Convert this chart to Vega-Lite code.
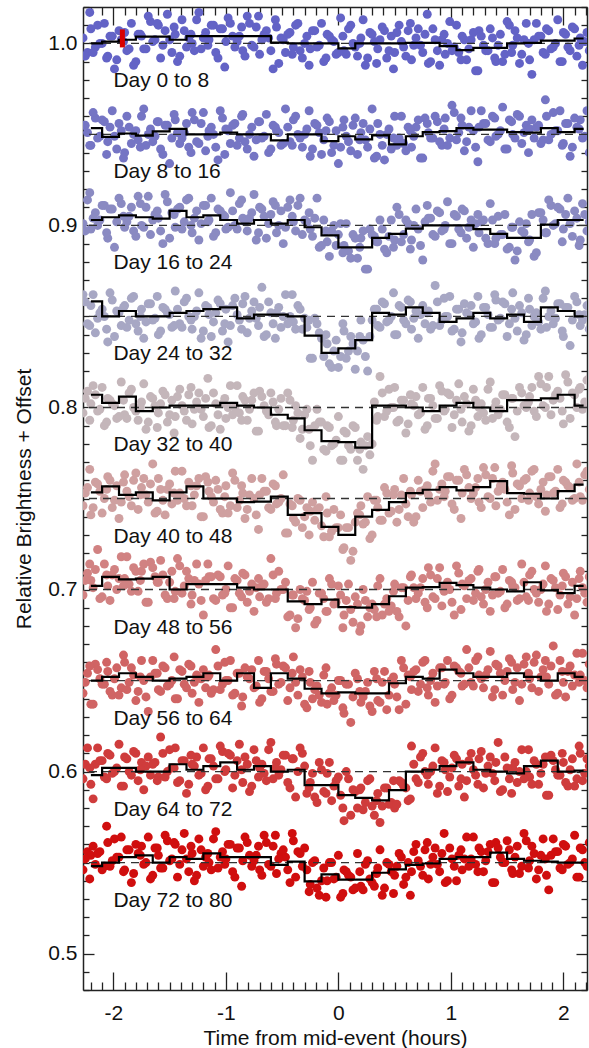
{
"$schema": "https://vega.github.io/schema/vega-lite/v6.json",
"width": 504, "height": 983,
"autosize": {"type": "none"},
"padding": {"left": 83, "top": 7, "right": 2, "bottom": 58},
"background": "white",
"config": {"view": {"stroke": null}, "font": "Liberation Sans",
 "axis": {"labelFont": "Liberation Sans", "titleFont": "Liberation Sans", "labelFontSize": 21, "titleFontSize": 21, "titleFontWeight": "normal", "labelColor": "#111", "titleColor": "#111", "domainColor": "#222", "tickColor": "#222", "domainWidth": 1.5, "tickWidth": 1.3, "grid": false, "labelOverlap": false, "labelFlush": false}},
"datasets": {
"p0": [{"t":-2.27,"y":1.003},{"t":-2.23,"y":0.995},{"t":-2.2,"y":1.008},{"t":-2.16,"y":0.998},{"t":-2.12,"y":1},{"t":-2.08,"y":1.011},{"t":-2.05,"y":0.993},{"t":-2.01,"y":1.004},{"t":-1.97,"y":0.991},{"t":-1.93,"y":1.002},{"t":-1.9,"y":1.006},{"t":-1.86,"y":0.997},{"t":-1.82,"y":0.988},{"t":-1.78,"y":1.005},{"t":-1.75,"y":1.004},{"t":-1.71,"y":0.997},{"t":-1.67,"y":1.012},{"t":-1.63,"y":1.002},{"t":-1.6,"y":1.01},{"t":-1.56,"y":0.999},{"t":-1.52,"y":1.016},{"t":-1.48,"y":0.995},{"t":-1.45,"y":1.005},{"t":-1.41,"y":0.993},{"t":-1.37,"y":1.007},{"t":-1.33,"y":1.003},{"t":-1.3,"y":1},{"t":-1.26,"y":1.013},{"t":-1.22,"y":0.997},{"t":-1.18,"y":1.006},{"t":-1.15,"y":1.002},{"t":-1.11,"y":1.01},{"t":-1.07,"y":0.992},{"t":-1.03,"y":1.008},{"t":-1,"y":1.001},{"t":-0.96,"y":1.011},{"t":-0.92,"y":0.998},{"t":-0.88,"y":1.004},{"t":-0.85,"y":0.996},{"t":-0.81,"y":1.015},{"t":-0.77,"y":0.999},{"t":-0.73,"y":1.009},{"t":-0.7,"y":0.994},{"t":-0.66,"y":1.005},{"t":-0.62,"y":1.003},{"t":-0.58,"y":0.986},{"t":-0.55,"y":1.009},{"t":-0.51,"y":1.003},{"t":-0.47,"y":0.995},{"t":-0.43,"y":1.006},{"t":-0.4,"y":0.998},{"t":-0.36,"y":1.011},{"t":-0.32,"y":0.992},{"t":-0.28,"y":1.004},{"t":-0.25,"y":0.997},{"t":-0.21,"y":1.007},{"t":-0.17,"y":0.999},{"t":-0.13,"y":0.99},{"t":-0.1,"y":1.005},{"t":-0.06,"y":1.002},{"t":-0.02,"y":0.994},{"t":0.02,"y":1.014},{"t":0.05,"y":0.996},{"t":0.09,"y":1.008},{"t":0.13,"y":1},{"t":0.17,"y":0.993},{"t":0.2,"y":1.003},{"t":0.24,"y":0.988},{"t":0.28,"y":1.006},{"t":0.32,"y":1.001},{"t":0.35,"y":0.997},{"t":0.39,"y":1.009},{"t":0.43,"y":0.992},{"t":0.47,"y":1.004},{"t":0.5,"y":0.995},{"t":0.54,"y":1.01},{"t":0.58,"y":0.998},{"t":0.62,"y":1.007},{"t":0.65,"y":0.991},{"t":0.69,"y":1.003},{"t":0.73,"y":0.999},{"t":0.77,"y":1.005},{"t":0.8,"y":0.989},{"t":0.84,"y":1.008},{"t":0.88,"y":0.996},{"t":0.92,"y":1.002},{"t":0.95,"y":0.994},{"t":0.99,"y":1.012},{"t":1.03,"y":0.998},{"t":1.07,"y":0.995},{"t":1.1,"y":1.004},{"t":1.14,"y":0.991},{"t":1.18,"y":1.002},{"t":1.22,"y":0.985},{"t":1.25,"y":1.007},{"t":1.29,"y":0.999},{"t":1.33,"y":0.996},{"t":1.37,"y":1.003},{"t":1.4,"y":0.99},{"t":1.44,"y":1.005},{"t":1.48,"y":0.994},{"t":1.52,"y":1.01},{"t":1.55,"y":0.999},{"t":1.59,"y":1.003},{"t":1.63,"y":0.994},{"t":1.67,"y":1.011},{"t":1.7,"y":0.991},{"t":1.74,"y":1.002},{"t":1.78,"y":1.004},{"t":1.82,"y":0.995},{"t":1.85,"y":1.008},{"t":1.89,"y":0.997},{"t":1.93,"y":1},{"t":1.97,"y":0.99},{"t":2,"y":1.006},{"t":2.04,"y":0.998},{"t":2.08,"y":1.009},{"t":2.12,"y":0.993},{"t":2.15,"y":1.003},{"t":2.19,"y":1.001},{"t":2.23,"y":0.996},
{"t":-2.25,"y":0.993},{"t":-2.21,"y":1.017},{"t":-2.18,"y":0.995},{"t":-2.14,"y":1.01},{"t":-2.1,"y":1},{"t":-2.06,"y":0.992},{"t":-2.03,"y":1.004},{"t":-1.99,"y":0.986},{"t":-1.95,"y":1.007},{"t":-1.91,"y":1.001},{"t":-1.88,"y":0.996},{"t":-1.84,"y":1.011},{"t":-1.8,"y":0.99},{"t":-1.76,"y":1.005},{"t":-1.73,"y":0.997},{"t":-1.69,"y":1.015},{"t":-1.65,"y":1.001},{"t":-1.61,"y":1.011},{"t":-1.58,"y":0.992},{"t":-1.54,"y":1.007},{"t":-1.5,"y":1.002},{"t":-1.46,"y":1.009},{"t":-1.43,"y":0.99},{"t":-1.39,"y":1.013},{"t":-1.35,"y":0.998},{"t":-1.31,"y":1.005},{"t":-1.28,"y":0.996},{"t":-1.24,"y":1.017},{"t":-1.2,"y":1.003},{"t":-1.16,"y":0.999},{"t":-1.13,"y":1.01},{"t":-1.09,"y":0.995},{"t":-1.05,"y":1.008},{"t":-1.01,"y":0.987},{"t":-0.98,"y":1.014},{"t":-0.94,"y":1.004},{"t":-0.9,"y":1.001},{"t":-0.86,"y":1.009},{"t":-0.83,"y":0.993},{"t":-0.79,"y":1.011},{"t":-0.75,"y":0.998},{"t":-0.71,"y":1.015},{"t":-0.68,"y":1.002},{"t":-0.64,"y":1.007},{"t":-0.6,"y":0.996},{"t":-0.56,"y":1.013},{"t":-0.53,"y":0.989},{"t":-0.49,"y":1.002},{"t":-0.45,"y":1.005},{"t":-0.41,"y":0.994},{"t":-0.38,"y":1.01},{"t":-0.34,"y":0.996},{"t":-0.3,"y":1},{"t":-0.26,"y":0.988},{"t":-0.23,"y":1.007},{"t":-0.19,"y":0.998},{"t":-0.15,"y":1.011},{"t":-0.11,"y":0.992},{"t":-0.08,"y":1.004},{"t":-0.04,"y":1.001},{"t":0,"y":0.995},{"t":0.04,"y":1.004},{"t":0.07,"y":0.994},{"t":0.11,"y":1.01},{"t":0.15,"y":0.998},{"t":0.19,"y":1},{"t":0.22,"y":1.013},{"t":0.26,"y":0.992},{"t":0.3,"y":1.005},{"t":0.34,"y":0.989},{"t":0.37,"y":1.002},{"t":0.41,"y":1.007},{"t":0.45,"y":0.996},{"t":0.49,"y":0.986},{"t":0.52,"y":1.006},{"t":0.56,"y":1.001},{"t":0.6,"y":0.993},{"t":0.64,"y":1.011},{"t":0.67,"y":0.999},{"t":0.71,"y":1.008},{"t":0.75,"y":0.995},{"t":0.79,"y":1.016},{"t":0.82,"y":0.99},{"t":0.86,"y":1.002},{"t":0.9,"y":0.988},{"t":0.94,"y":1.005},{"t":0.97,"y":1},{"t":1.01,"y":0.996},{"t":1.05,"y":1.01},{"t":1.09,"y":0.991},{"t":1.12,"y":1.002},{"t":1.16,"y":0.997},{"t":1.2,"y":1.006},{"t":1.24,"y":0.985},{"t":1.27,"y":1.004},{"t":1.31,"y":0.996},{"t":1.35,"y":1.008},{"t":1.39,"y":0.992},{"t":1.42,"y":0.999},{"t":1.46,"y":0.99},{"t":1.5,"y":1.012},{"t":1.54,"y":0.995},{"t":1.57,"y":1.007},{"t":1.61,"y":0.989},{"t":1.65,"y":1.002},{"t":1.69,"y":1},{"t":1.72,"y":0.983},{"t":1.76,"y":1.011},{"t":1.8,"y":1.004},{"t":1.84,"y":0.994},{"t":1.87,"y":1.007},{"t":1.91,"y":0.998},{"t":1.95,"y":1.013},{"t":1.99,"y":0.99},{"t":2.02,"y":1.005},{"t":2.06,"y":0.996},{"t":2.1,"y":1.008},{"t":2.14,"y":0.999},{"t":2.17,"y":0.988},{"t":2.21,"y":1.006}],
"p1": [{"t":-2.27,"y":0.955},{"t":-2.23,"y":0.951},{"t":-2.2,"y":0.944},{"t":-2.16,"y":0.959},{"t":-2.12,"y":0.949},{"t":-2.08,"y":0.957},{"t":-2.05,"y":0.946},{"t":-2.01,"y":0.963},{"t":-1.97,"y":0.942},{"t":-1.93,"y":0.952},{"t":-1.9,"y":0.94},{"t":-1.86,"y":0.954},{"t":-1.82,"y":0.95},{"t":-1.78,"y":0.947},{"t":-1.75,"y":0.96},{"t":-1.71,"y":0.944},{"t":-1.67,"y":0.953},{"t":-1.63,"y":0.949},{"t":-1.6,"y":0.957},{"t":-1.56,"y":0.939},{"t":-1.52,"y":0.955},{"t":-1.48,"y":0.948},{"t":-1.45,"y":0.958},{"t":-1.41,"y":0.945},{"t":-1.37,"y":0.951},{"t":-1.33,"y":0.943},{"t":-1.3,"y":0.962},{"t":-1.26,"y":0.946},{"t":-1.22,"y":0.956},{"t":-1.18,"y":0.941},{"t":-1.15,"y":0.952},{"t":-1.11,"y":0.95},{"t":-1.07,"y":0.936},{"t":-1.03,"y":0.959},{"t":-1,"y":0.953},{"t":-0.96,"y":0.945},{"t":-0.92,"y":0.956},{"t":-0.88,"y":0.948},{"t":-0.85,"y":0.961},{"t":-0.81,"y":0.942},{"t":-0.77,"y":0.954},{"t":-0.73,"y":0.947},{"t":-0.7,"y":0.957},{"t":-0.66,"y":0.949},{"t":-0.62,"y":0.94},{"t":-0.58,"y":0.955},{"t":-0.55,"y":0.952},{"t":-0.51,"y":0.944},{"t":-0.47,"y":0.964},{"t":-0.43,"y":0.946},{"t":-0.4,"y":0.958},{"t":-0.36,"y":0.95},{"t":-0.32,"y":0.943},{"t":-0.28,"y":0.953},{"t":-0.25,"y":0.938},{"t":-0.21,"y":0.956},{"t":-0.17,"y":0.951},{"t":-0.13,"y":0.947},{"t":-0.1,"y":0.959},{"t":-0.06,"y":0.94},{"t":-0.02,"y":0.952},{"t":0.02,"y":0.943},{"t":0.05,"y":0.958},{"t":0.09,"y":0.946},{"t":0.13,"y":0.955},{"t":0.17,"y":0.939},{"t":0.2,"y":0.951},{"t":0.24,"y":0.947},{"t":0.28,"y":0.953},{"t":0.32,"y":0.937},{"t":0.35,"y":0.956},{"t":0.39,"y":0.944},{"t":0.43,"y":0.95},{"t":0.47,"y":0.942},{"t":0.5,"y":0.96},{"t":0.54,"y":0.948},{"t":0.58,"y":0.945},{"t":0.62,"y":0.954},{"t":0.65,"y":0.943},{"t":0.69,"y":0.954},{"t":0.73,"y":0.937},{"t":0.77,"y":0.959},{"t":0.8,"y":0.951},{"t":0.84,"y":0.948},{"t":0.88,"y":0.957},{"t":0.92,"y":0.944},{"t":0.95,"y":0.959},{"t":0.99,"y":0.948},{"t":1.03,"y":0.962},{"t":1.07,"y":0.951},{"t":1.1,"y":0.955},{"t":1.14,"y":0.946},{"t":1.18,"y":0.963},{"t":1.22,"y":0.943},{"t":1.25,"y":0.954},{"t":1.29,"y":0.956},{"t":1.33,"y":0.947},{"t":1.37,"y":0.96},{"t":1.4,"y":0.949},{"t":1.44,"y":0.952},{"t":1.48,"y":0.942},{"t":1.52,"y":0.958},{"t":1.55,"y":0.95},{"t":1.59,"y":0.961},{"t":1.63,"y":0.945},{"t":1.67,"y":0.955},{"t":1.7,"y":0.953},{"t":1.74,"y":0.948},{"t":1.78,"y":0.955},{"t":1.82,"y":0.947},{"t":1.85,"y":0.96},{"t":1.89,"y":0.95},{"t":1.93,"y":0.952},{"t":1.97,"y":0.963},{"t":2,"y":0.945},{"t":2.04,"y":0.956},{"t":2.08,"y":0.943},{"t":2.12,"y":0.954},{"t":2.15,"y":0.958},{"t":2.19,"y":0.949},{"t":2.23,"y":0.94},
{"t":-2.25,"y":0.955},{"t":-2.21,"y":0.944},{"t":-2.18,"y":0.962},{"t":-2.14,"y":0.948},{"t":-2.1,"y":0.958},{"t":-2.06,"y":0.939},{"t":-2.03,"y":0.954},{"t":-1.99,"y":0.949},{"t":-1.95,"y":0.956},{"t":-1.91,"y":0.937},{"t":-1.88,"y":0.96},{"t":-1.84,"y":0.945},{"t":-1.8,"y":0.952},{"t":-1.76,"y":0.943},{"t":-1.73,"y":0.964},{"t":-1.69,"y":0.95},{"t":-1.65,"y":0.946},{"t":-1.61,"y":0.957},{"t":-1.58,"y":0.942},{"t":-1.54,"y":0.955},{"t":-1.5,"y":0.934},{"t":-1.46,"y":0.961},{"t":-1.43,"y":0.951},{"t":-1.39,"y":0.948},{"t":-1.35,"y":0.956},{"t":-1.31,"y":0.94},{"t":-1.28,"y":0.958},{"t":-1.24,"y":0.945},{"t":-1.2,"y":0.962},{"t":-1.16,"y":0.949},{"t":-1.13,"y":0.954},{"t":-1.09,"y":0.943},{"t":-1.05,"y":0.963},{"t":-1.01,"y":0.939},{"t":-0.98,"y":0.952},{"t":-0.94,"y":0.955},{"t":-0.9,"y":0.944},{"t":-0.86,"y":0.96},{"t":-0.83,"y":0.946},{"t":-0.79,"y":0.95},{"t":-0.75,"y":0.938},{"t":-0.71,"y":0.957},{"t":-0.68,"y":0.948},{"t":-0.64,"y":0.961},{"t":-0.6,"y":0.942},{"t":-0.56,"y":0.954},{"t":-0.53,"y":0.951},{"t":-0.49,"y":0.945},{"t":-0.45,"y":0.954},{"t":-0.41,"y":0.944},{"t":-0.38,"y":0.96},{"t":-0.34,"y":0.948},{"t":-0.3,"y":0.95},{"t":-0.26,"y":0.963},{"t":-0.23,"y":0.942},{"t":-0.19,"y":0.955},{"t":-0.15,"y":0.939},{"t":-0.11,"y":0.952},{"t":-0.08,"y":0.957},{"t":-0.04,"y":0.944},{"t":0,"y":0.934},{"t":0.04,"y":0.954},{"t":0.07,"y":0.949},{"t":0.11,"y":0.941},{"t":0.15,"y":0.959},{"t":0.19,"y":0.947},{"t":0.22,"y":0.956},{"t":0.26,"y":0.943},{"t":0.3,"y":0.964},{"t":0.34,"y":0.938},{"t":0.37,"y":0.95},{"t":0.41,"y":0.936},{"t":0.45,"y":0.953},{"t":0.49,"y":0.948},{"t":0.52,"y":0.944},{"t":0.56,"y":0.96},{"t":0.6,"y":0.941},{"t":0.64,"y":0.952},{"t":0.67,"y":0.949},{"t":0.71,"y":0.958},{"t":0.75,"y":0.937},{"t":0.79,"y":0.956},{"t":0.82,"y":0.948},{"t":0.86,"y":0.96},{"t":0.9,"y":0.946},{"t":0.94,"y":0.953},{"t":0.97,"y":0.944},{"t":1.01,"y":0.966},{"t":1.05,"y":0.947},{"t":1.09,"y":0.959},{"t":1.12,"y":0.941},{"t":1.16,"y":0.954},{"t":1.2,"y":0.952},{"t":1.24,"y":0.935},{"t":1.27,"y":0.963},{"t":1.31,"y":0.956},{"t":1.35,"y":0.946},{"t":1.39,"y":0.959},{"t":1.42,"y":0.95},{"t":1.46,"y":0.965},{"t":1.5,"y":0.942},{"t":1.54,"y":0.957},{"t":1.57,"y":0.948},{"t":1.61,"y":0.96},{"t":1.65,"y":0.951},{"t":1.69,"y":0.94},{"t":1.72,"y":0.958},{"t":1.76,"y":0.954},{"t":1.8,"y":0.945},{"t":1.84,"y":0.969},{"t":1.87,"y":0.947},{"t":1.91,"y":0.962},{"t":1.95,"y":0.952},{"t":1.99,"y":0.944},{"t":2.02,"y":0.956},{"t":2.06,"y":0.938},{"t":2.1,"y":0.959},{"t":2.14,"y":0.953},{"t":2.17,"y":0.948},{"t":2.21,"y":0.963}],
"p2": [{"t":-2.27,"y":0.901},{"t":-2.23,"y":0.914},{"t":-2.2,"y":0.898},{"t":-2.16,"y":0.907},{"t":-2.12,"y":0.903},{"t":-2.08,"y":0.911},{"t":-2.05,"y":0.893},{"t":-2.01,"y":0.909},{"t":-1.97,"y":0.902},{"t":-1.93,"y":0.912},{"t":-1.9,"y":0.899},{"t":-1.86,"y":0.905},{"t":-1.82,"y":0.897},{"t":-1.78,"y":0.916},{"t":-1.75,"y":0.9},{"t":-1.71,"y":0.91},{"t":-1.67,"y":0.895},{"t":-1.63,"y":0.906},{"t":-1.6,"y":0.904},{"t":-1.56,"y":0.89},{"t":-1.52,"y":0.913},{"t":-1.48,"y":0.907},{"t":-1.45,"y":0.899},{"t":-1.41,"y":0.91},{"t":-1.37,"y":0.902},{"t":-1.33,"y":0.915},{"t":-1.3,"y":0.896},{"t":-1.26,"y":0.908},{"t":-1.22,"y":0.901},{"t":-1.18,"y":0.911},{"t":-1.15,"y":0.903},{"t":-1.11,"y":0.894},{"t":-1.07,"y":0.909},{"t":-1.03,"y":0.906},{"t":-1,"y":0.898},{"t":-0.96,"y":0.918},{"t":-0.92,"y":0.9},{"t":-0.88,"y":0.912},{"t":-0.85,"y":0.904},{"t":-0.81,"y":0.897},{"t":-0.77,"y":0.907},{"t":-0.73,"y":0.892},{"t":-0.7,"y":0.91},{"t":-0.66,"y":0.905},{"t":-0.62,"y":0.901},{"t":-0.58,"y":0.913},{"t":-0.55,"y":0.896},{"t":-0.51,"y":0.908},{"t":-0.47,"y":0.899},{"t":-0.43,"y":0.914},{"t":-0.4,"y":0.902},{"t":-0.36,"y":0.911},{"t":-0.32,"y":0.895},{"t":-0.28,"y":0.902},{"t":-0.25,"y":0.898},{"t":-0.21,"y":0.904},{"t":-0.17,"y":0.888},{"t":-0.13,"y":0.903},{"t":-0.1,"y":0.891},{"t":-0.06,"y":0.897},{"t":-0.02,"y":0.889},{"t":0.02,"y":0.901},{"t":0.05,"y":0.889},{"t":0.09,"y":0.886},{"t":0.13,"y":0.895},{"t":0.17,"y":0.882},{"t":0.2,"y":0.893},{"t":0.24,"y":0.876},{"t":0.28,"y":0.898},{"t":0.32,"y":0.894},{"t":0.35,"y":0.891},{"t":0.39,"y":0.898},{"t":0.43,"y":0.885},{"t":0.47,"y":0.903},{"t":0.5,"y":0.892},{"t":0.54,"y":0.906},{"t":0.58,"y":0.895},{"t":0.62,"y":0.901},{"t":0.65,"y":0.892},{"t":0.69,"y":0.909},{"t":0.73,"y":0.889},{"t":0.77,"y":0.902},{"t":0.8,"y":0.904},{"t":0.84,"y":0.895},{"t":0.88,"y":0.908},{"t":0.92,"y":0.897},{"t":0.95,"y":0.9},{"t":0.99,"y":0.89},{"t":1.03,"y":0.906},{"t":1.07,"y":0.898},{"t":1.1,"y":0.909},{"t":1.14,"y":0.893},{"t":1.18,"y":0.903},{"t":1.22,"y":0.901},{"t":1.25,"y":0.896},{"t":1.29,"y":0.903},{"t":1.33,"y":0.89},{"t":1.37,"y":0.903},{"t":1.4,"y":0.893},{"t":1.44,"y":0.895},{"t":1.48,"y":0.906},{"t":1.52,"y":0.888},{"t":1.55,"y":0.899},{"t":1.59,"y":0.886},{"t":1.63,"y":0.897},{"t":1.67,"y":0.901},{"t":1.7,"y":0.892},{"t":1.74,"y":0.883},{"t":1.78,"y":0.907},{"t":1.82,"y":0.903},{"t":1.85,"y":0.896},{"t":1.89,"y":0.911},{"t":1.93,"y":0.901},{"t":1.97,"y":0.909},{"t":2,"y":0.898},{"t":2.04,"y":0.915},{"t":2.08,"y":0.894},{"t":2.12,"y":0.904},{"t":2.15,"y":0.892},{"t":2.19,"y":0.906},{"t":2.23,"y":0.902},
{"t":-2.25,"y":0.897},{"t":-2.21,"y":0.918},{"t":-2.18,"y":0.904},{"t":-2.14,"y":0.9},{"t":-2.1,"y":0.911},{"t":-2.06,"y":0.896},{"t":-2.03,"y":0.909},{"t":-1.99,"y":0.888},{"t":-1.95,"y":0.915},{"t":-1.91,"y":0.905},{"t":-1.88,"y":0.902},{"t":-1.84,"y":0.91},{"t":-1.8,"y":0.894},{"t":-1.76,"y":0.912},{"t":-1.73,"y":0.899},{"t":-1.69,"y":0.916},{"t":-1.65,"y":0.903},{"t":-1.61,"y":0.908},{"t":-1.58,"y":0.897},{"t":-1.54,"y":0.917},{"t":-1.5,"y":0.893},{"t":-1.46,"y":0.906},{"t":-1.43,"y":0.909},{"t":-1.39,"y":0.898},{"t":-1.35,"y":0.914},{"t":-1.31,"y":0.9},{"t":-1.28,"y":0.904},{"t":-1.24,"y":0.892},{"t":-1.2,"y":0.911},{"t":-1.16,"y":0.902},{"t":-1.13,"y":0.915},{"t":-1.09,"y":0.896},{"t":-1.05,"y":0.908},{"t":-1.01,"y":0.905},{"t":-0.98,"y":0.899},{"t":-0.94,"y":0.908},{"t":-0.9,"y":0.898},{"t":-0.86,"y":0.914},{"t":-0.83,"y":0.902},{"t":-0.79,"y":0.904},{"t":-0.75,"y":0.917},{"t":-0.71,"y":0.896},{"t":-0.68,"y":0.909},{"t":-0.64,"y":0.893},{"t":-0.6,"y":0.906},{"t":-0.56,"y":0.911},{"t":-0.53,"y":0.9},{"t":-0.49,"y":0.89},{"t":-0.45,"y":0.91},{"t":-0.41,"y":0.905},{"t":-0.38,"y":0.897},{"t":-0.34,"y":0.915},{"t":-0.3,"y":0.903},{"t":-0.26,"y":0.907},{"t":-0.23,"y":0.894},{"t":-0.19,"y":0.915},{"t":-0.15,"y":0.889},{"t":-0.11,"y":0.897},{"t":-0.08,"y":0.883},{"t":-0.04,"y":0.9},{"t":0,"y":0.895},{"t":0.04,"y":0.885},{"t":0.07,"y":0.901},{"t":0.11,"y":0.882},{"t":0.15,"y":0.893},{"t":0.19,"y":0.888},{"t":0.22,"y":0.897},{"t":0.26,"y":0.876},{"t":0.3,"y":0.895},{"t":0.34,"y":0.891},{"t":0.37,"y":0.903},{"t":0.41,"y":0.887},{"t":0.45,"y":0.894},{"t":0.49,"y":0.888},{"t":0.52,"y":0.91},{"t":0.56,"y":0.891},{"t":0.6,"y":0.903},{"t":0.64,"y":0.887},{"t":0.67,"y":0.9},{"t":0.71,"y":0.898},{"t":0.75,"y":0.881},{"t":0.79,"y":0.911},{"t":0.82,"y":0.904},{"t":0.86,"y":0.894},{"t":0.9,"y":0.907},{"t":0.94,"y":0.898},{"t":0.97,"y":0.913},{"t":1.01,"y":0.89},{"t":1.05,"y":0.905},{"t":1.09,"y":0.896},{"t":1.12,"y":0.908},{"t":1.16,"y":0.899},{"t":1.2,"y":0.888},{"t":1.24,"y":0.906},{"t":1.27,"y":0.902},{"t":1.31,"y":0.893},{"t":1.35,"y":0.912},{"t":1.39,"y":0.89},{"t":1.42,"y":0.905},{"t":1.46,"y":0.895},{"t":1.5,"y":0.887},{"t":1.54,"y":0.899},{"t":1.57,"y":0.881},{"t":1.61,"y":0.902},{"t":1.65,"y":0.896},{"t":1.69,"y":0.891},{"t":1.72,"y":0.906},{"t":1.76,"y":0.885},{"t":1.8,"y":0.907},{"t":1.84,"y":0.896},{"t":1.87,"y":0.914},{"t":1.91,"y":0.9},{"t":1.95,"y":0.91},{"t":1.99,"y":0.891},{"t":2.02,"y":0.906},{"t":2.06,"y":0.901},{"t":2.1,"y":0.908},{"t":2.14,"y":0.889},{"t":2.17,"y":0.912},{"t":2.21,"y":0.897}],
"p3": [{"t":-2.27,"y":0.862},{"t":-2.23,"y":0.846},{"t":-2.2,"y":0.856},{"t":-2.16,"y":0.841},{"t":-2.12,"y":0.852},{"t":-2.08,"y":0.85},{"t":-2.05,"y":0.836},{"t":-2.01,"y":0.859},{"t":-1.97,"y":0.853},{"t":-1.93,"y":0.845},{"t":-1.9,"y":0.856},{"t":-1.86,"y":0.848},{"t":-1.82,"y":0.861},{"t":-1.78,"y":0.842},{"t":-1.75,"y":0.854},{"t":-1.71,"y":0.847},{"t":-1.67,"y":0.857},{"t":-1.63,"y":0.849},{"t":-1.6,"y":0.84},{"t":-1.56,"y":0.855},{"t":-1.52,"y":0.852},{"t":-1.48,"y":0.844},{"t":-1.45,"y":0.864},{"t":-1.41,"y":0.846},{"t":-1.37,"y":0.858},{"t":-1.33,"y":0.85},{"t":-1.3,"y":0.843},{"t":-1.26,"y":0.853},{"t":-1.22,"y":0.838},{"t":-1.18,"y":0.856},{"t":-1.15,"y":0.851},{"t":-1.11,"y":0.847},{"t":-1.07,"y":0.859},{"t":-1.03,"y":0.842},{"t":-1,"y":0.854},{"t":-0.96,"y":0.845},{"t":-0.92,"y":0.86},{"t":-0.88,"y":0.848},{"t":-0.85,"y":0.857},{"t":-0.81,"y":0.841},{"t":-0.77,"y":0.853},{"t":-0.73,"y":0.849},{"t":-0.7,"y":0.855},{"t":-0.66,"y":0.839},{"t":-0.62,"y":0.858},{"t":-0.58,"y":0.846},{"t":-0.55,"y":0.852},{"t":-0.51,"y":0.844},{"t":-0.47,"y":0.862},{"t":-0.43,"y":0.85},{"t":-0.4,"y":0.847},{"t":-0.36,"y":0.856},{"t":-0.32,"y":0.843},{"t":-0.28,"y":0.844},{"t":-0.25,"y":0.827},{"t":-0.21,"y":0.849},{"t":-0.17,"y":0.841},{"t":-0.13,"y":0.828},{"t":-0.1,"y":0.835},{"t":-0.06,"y":0.822},{"t":-0.02,"y":0.837},{"t":0.02,"y":0.828},{"t":0.05,"y":0.842},{"t":0.09,"y":0.831},{"t":0.13,"y":0.835},{"t":0.17,"y":0.831},{"t":0.2,"y":0.848},{"t":0.24,"y":0.828},{"t":0.28,"y":0.839},{"t":0.32,"y":0.854},{"t":0.35,"y":0.845},{"t":0.39,"y":0.858},{"t":0.43,"y":0.847},{"t":0.47,"y":0.85},{"t":0.5,"y":0.84},{"t":0.54,"y":0.856},{"t":0.58,"y":0.848},{"t":0.62,"y":0.859},{"t":0.65,"y":0.843},{"t":0.69,"y":0.853},{"t":0.73,"y":0.851},{"t":0.77,"y":0.846},{"t":0.8,"y":0.853},{"t":0.84,"y":0.845},{"t":0.88,"y":0.858},{"t":0.92,"y":0.848},{"t":0.95,"y":0.85},{"t":0.99,"y":0.861},{"t":1.03,"y":0.843},{"t":1.07,"y":0.854},{"t":1.1,"y":0.841},{"t":1.14,"y":0.852},{"t":1.18,"y":0.856},{"t":1.22,"y":0.847},{"t":1.25,"y":0.838},{"t":1.29,"y":0.855},{"t":1.33,"y":0.851},{"t":1.37,"y":0.844},{"t":1.4,"y":0.859},{"t":1.44,"y":0.849},{"t":1.48,"y":0.857},{"t":1.52,"y":0.846},{"t":1.55,"y":0.863},{"t":1.59,"y":0.842},{"t":1.63,"y":0.852},{"t":1.67,"y":0.84},{"t":1.7,"y":0.854},{"t":1.74,"y":0.85},{"t":1.78,"y":0.847},{"t":1.82,"y":0.86},{"t":1.85,"y":0.844},{"t":1.89,"y":0.853},{"t":1.93,"y":0.849},{"t":1.97,"y":0.857},{"t":2,"y":0.839},{"t":2.04,"y":0.855},{"t":2.08,"y":0.848},{"t":2.12,"y":0.858},{"t":2.15,"y":0.845},{"t":2.19,"y":0.851},{"t":2.23,"y":0.843},
{"t":-2.25,"y":0.858},{"t":-2.21,"y":0.845},{"t":-2.18,"y":0.862},{"t":-2.14,"y":0.849},{"t":-2.1,"y":0.854},{"t":-2.06,"y":0.843},{"t":-2.03,"y":0.863},{"t":-1.99,"y":0.839},{"t":-1.95,"y":0.852},{"t":-1.91,"y":0.855},{"t":-1.88,"y":0.844},{"t":-1.84,"y":0.86},{"t":-1.8,"y":0.846},{"t":-1.76,"y":0.85},{"t":-1.73,"y":0.838},{"t":-1.69,"y":0.857},{"t":-1.65,"y":0.848},{"t":-1.61,"y":0.861},{"t":-1.58,"y":0.842},{"t":-1.54,"y":0.854},{"t":-1.5,"y":0.851},{"t":-1.46,"y":0.845},{"t":-1.43,"y":0.854},{"t":-1.39,"y":0.844},{"t":-1.35,"y":0.86},{"t":-1.31,"y":0.848},{"t":-1.28,"y":0.85},{"t":-1.24,"y":0.863},{"t":-1.2,"y":0.842},{"t":-1.16,"y":0.855},{"t":-1.13,"y":0.839},{"t":-1.09,"y":0.852},{"t":-1.05,"y":0.857},{"t":-1.01,"y":0.846},{"t":-0.98,"y":0.836},{"t":-0.94,"y":0.856},{"t":-0.9,"y":0.851},{"t":-0.86,"y":0.843},{"t":-0.83,"y":0.861},{"t":-0.79,"y":0.849},{"t":-0.75,"y":0.858},{"t":-0.71,"y":0.845},{"t":-0.68,"y":0.866},{"t":-0.64,"y":0.84},{"t":-0.6,"y":0.852},{"t":-0.56,"y":0.838},{"t":-0.53,"y":0.855},{"t":-0.49,"y":0.85},{"t":-0.45,"y":0.846},{"t":-0.41,"y":0.862},{"t":-0.38,"y":0.843},{"t":-0.34,"y":0.854},{"t":-0.3,"y":0.849},{"t":-0.26,"y":0.848},{"t":-0.23,"y":0.827},{"t":-0.19,"y":0.846},{"t":-0.15,"y":0.838},{"t":-0.11,"y":0.84},{"t":-0.08,"y":0.824},{"t":-0.04,"y":0.831},{"t":0,"y":0.822},{"t":0.04,"y":0.846},{"t":0.07,"y":0.827},{"t":0.11,"y":0.839},{"t":0.15,"y":0.821},{"t":0.19,"y":0.839},{"t":0.22,"y":0.837},{"t":0.26,"y":0.82},{"t":0.3,"y":0.848},{"t":0.34,"y":0.854},{"t":0.37,"y":0.844},{"t":0.41,"y":0.857},{"t":0.45,"y":0.848},{"t":0.49,"y":0.863},{"t":0.52,"y":0.84},{"t":0.56,"y":0.855},{"t":0.6,"y":0.846},{"t":0.64,"y":0.858},{"t":0.67,"y":0.849},{"t":0.71,"y":0.838},{"t":0.75,"y":0.856},{"t":0.79,"y":0.852},{"t":0.82,"y":0.843},{"t":0.86,"y":0.867},{"t":0.9,"y":0.845},{"t":0.94,"y":0.86},{"t":0.97,"y":0.85},{"t":1.01,"y":0.842},{"t":1.05,"y":0.854},{"t":1.09,"y":0.836},{"t":1.12,"y":0.857},{"t":1.16,"y":0.851},{"t":1.2,"y":0.846},{"t":1.24,"y":0.861},{"t":1.27,"y":0.84},{"t":1.31,"y":0.855},{"t":1.35,"y":0.844},{"t":1.39,"y":0.862},{"t":1.42,"y":0.848},{"t":1.46,"y":0.858},{"t":1.5,"y":0.839},{"t":1.54,"y":0.854},{"t":1.57,"y":0.849},{"t":1.61,"y":0.856},{"t":1.65,"y":0.837},{"t":1.69,"y":0.86},{"t":1.72,"y":0.845},{"t":1.76,"y":0.852},{"t":1.8,"y":0.843},{"t":1.84,"y":0.864},{"t":1.87,"y":0.85},{"t":1.91,"y":0.846},{"t":1.95,"y":0.857},{"t":1.99,"y":0.842},{"t":2.02,"y":0.855},{"t":2.06,"y":0.834},{"t":2.1,"y":0.861},{"t":2.14,"y":0.851},{"t":2.17,"y":0.848},{"t":2.21,"y":0.856}],
"p4": [{"t":-2.27,"y":0.797},{"t":-2.23,"y":0.809},{"t":-2.2,"y":0.802},{"t":-2.16,"y":0.807},{"t":-2.12,"y":0.799},{"t":-2.08,"y":0.79},{"t":-2.05,"y":0.805},{"t":-2.01,"y":0.802},{"t":-1.97,"y":0.794},{"t":-1.93,"y":0.814},{"t":-1.9,"y":0.796},{"t":-1.86,"y":0.808},{"t":-1.82,"y":0.8},{"t":-1.78,"y":0.793},{"t":-1.75,"y":0.803},{"t":-1.71,"y":0.788},{"t":-1.67,"y":0.806},{"t":-1.63,"y":0.801},{"t":-1.6,"y":0.797},{"t":-1.56,"y":0.809},{"t":-1.52,"y":0.792},{"t":-1.48,"y":0.804},{"t":-1.45,"y":0.795},{"t":-1.41,"y":0.81},{"t":-1.37,"y":0.798},{"t":-1.33,"y":0.807},{"t":-1.3,"y":0.791},{"t":-1.26,"y":0.803},{"t":-1.22,"y":0.799},{"t":-1.18,"y":0.805},{"t":-1.15,"y":0.789},{"t":-1.11,"y":0.808},{"t":-1.07,"y":0.796},{"t":-1.03,"y":0.802},{"t":-1,"y":0.794},{"t":-0.96,"y":0.812},{"t":-0.92,"y":0.8},{"t":-0.88,"y":0.797},{"t":-0.85,"y":0.806},{"t":-0.81,"y":0.793},{"t":-0.77,"y":0.804},{"t":-0.73,"y":0.787},{"t":-0.7,"y":0.809},{"t":-0.66,"y":0.801},{"t":-0.62,"y":0.796},{"t":-0.58,"y":0.803},{"t":-0.55,"y":0.79},{"t":-0.51,"y":0.805},{"t":-0.47,"y":0.79},{"t":-0.43,"y":0.804},{"t":-0.4,"y":0.793},{"t":-0.36,"y":0.797},{"t":-0.32,"y":0.788},{"t":-0.28,"y":0.799},{"t":-0.25,"y":0.779},{"t":-0.21,"y":0.79},{"t":-0.17,"y":0.792},{"t":-0.13,"y":0.777},{"t":-0.1,"y":0.79},{"t":-0.06,"y":0.779},{"t":-0.02,"y":0.782},{"t":0.02,"y":0.771},{"t":0.05,"y":0.787},{"t":0.09,"y":0.779},{"t":0.13,"y":0.79},{"t":0.17,"y":0.771},{"t":0.2,"y":0.781},{"t":0.24,"y":0.779},{"t":0.28,"y":0.774},{"t":0.32,"y":0.803},{"t":0.35,"y":0.795},{"t":0.39,"y":0.808},{"t":0.43,"y":0.798},{"t":0.47,"y":0.8},{"t":0.5,"y":0.811},{"t":0.54,"y":0.793},{"t":0.58,"y":0.804},{"t":0.62,"y":0.791},{"t":0.65,"y":0.802},{"t":0.69,"y":0.806},{"t":0.73,"y":0.797},{"t":0.77,"y":0.788},{"t":0.8,"y":0.805},{"t":0.84,"y":0.801},{"t":0.88,"y":0.794},{"t":0.92,"y":0.809},{"t":0.95,"y":0.799},{"t":0.99,"y":0.807},{"t":1.03,"y":0.796},{"t":1.07,"y":0.813},{"t":1.1,"y":0.792},{"t":1.14,"y":0.802},{"t":1.18,"y":0.79},{"t":1.22,"y":0.804},{"t":1.25,"y":0.8},{"t":1.29,"y":0.797},{"t":1.33,"y":0.81},{"t":1.37,"y":0.794},{"t":1.4,"y":0.803},{"t":1.44,"y":0.799},{"t":1.48,"y":0.807},{"t":1.52,"y":0.789},{"t":1.55,"y":0.805},{"t":1.59,"y":0.798},{"t":1.63,"y":0.808},{"t":1.67,"y":0.8},{"t":1.7,"y":0.806},{"t":1.74,"y":0.798},{"t":1.78,"y":0.817},{"t":1.82,"y":0.801},{"t":1.85,"y":0.811},{"t":1.89,"y":0.796},{"t":1.93,"y":0.807},{"t":1.97,"y":0.805},{"t":2,"y":0.791},{"t":2.04,"y":0.814},{"t":2.08,"y":0.808},{"t":2.12,"y":0.8},{"t":2.15,"y":0.811},{"t":2.19,"y":0.803},{"t":2.23,"y":0.816},
{"t":-2.25,"y":0.805},{"t":-2.21,"y":0.793},{"t":-2.18,"y":0.812},{"t":-2.14,"y":0.798},{"t":-2.1,"y":0.811},{"t":-2.06,"y":0.792},{"t":-2.03,"y":0.804},{"t":-1.99,"y":0.801},{"t":-1.95,"y":0.795},{"t":-1.91,"y":0.804},{"t":-1.88,"y":0.794},{"t":-1.84,"y":0.81},{"t":-1.8,"y":0.798},{"t":-1.76,"y":0.8},{"t":-1.73,"y":0.813},{"t":-1.69,"y":0.792},{"t":-1.65,"y":0.805},{"t":-1.61,"y":0.789},{"t":-1.58,"y":0.802},{"t":-1.54,"y":0.807},{"t":-1.5,"y":0.796},{"t":-1.46,"y":0.786},{"t":-1.43,"y":0.806},{"t":-1.39,"y":0.801},{"t":-1.35,"y":0.793},{"t":-1.31,"y":0.811},{"t":-1.28,"y":0.799},{"t":-1.24,"y":0.808},{"t":-1.2,"y":0.795},{"t":-1.16,"y":0.816},{"t":-1.13,"y":0.79},{"t":-1.09,"y":0.802},{"t":-1.05,"y":0.788},{"t":-1.01,"y":0.805},{"t":-0.98,"y":0.8},{"t":-0.94,"y":0.796},{"t":-0.9,"y":0.812},{"t":-0.86,"y":0.793},{"t":-0.83,"y":0.804},{"t":-0.79,"y":0.799},{"t":-0.75,"y":0.808},{"t":-0.71,"y":0.787},{"t":-0.68,"y":0.806},{"t":-0.64,"y":0.798},{"t":-0.6,"y":0.808},{"t":-0.56,"y":0.792},{"t":-0.53,"y":0.799},{"t":-0.49,"y":0.79},{"t":-0.45,"y":0.808},{"t":-0.41,"y":0.789},{"t":-0.38,"y":0.801},{"t":-0.34,"y":0.783},{"t":-0.3,"y":0.796},{"t":-0.26,"y":0.788},{"t":-0.23,"y":0.771},{"t":-0.19,"y":0.799},{"t":-0.15,"y":0.792},{"t":-0.11,"y":0.776},{"t":-0.08,"y":0.789},{"t":-0.04,"y":0.78},{"t":0,"y":0.795},{"t":0.04,"y":0.771},{"t":0.07,"y":0.786},{"t":0.11,"y":0.777},{"t":0.15,"y":0.789},{"t":0.19,"y":0.777},{"t":0.22,"y":0.766},{"t":0.26,"y":0.784},{"t":0.3,"y":0.78},{"t":0.34,"y":0.793},{"t":0.37,"y":0.817},{"t":0.41,"y":0.795},{"t":0.45,"y":0.81},{"t":0.49,"y":0.8},{"t":0.52,"y":0.792},{"t":0.56,"y":0.804},{"t":0.6,"y":0.786},{"t":0.64,"y":0.807},{"t":0.67,"y":0.801},{"t":0.71,"y":0.796},{"t":0.75,"y":0.811},{"t":0.79,"y":0.79},{"t":0.82,"y":0.805},{"t":0.86,"y":0.794},{"t":0.9,"y":0.812},{"t":0.94,"y":0.798},{"t":0.97,"y":0.808},{"t":1.01,"y":0.789},{"t":1.05,"y":0.804},{"t":1.09,"y":0.799},{"t":1.12,"y":0.806},{"t":1.16,"y":0.787},{"t":1.2,"y":0.81},{"t":1.24,"y":0.795},{"t":1.27,"y":0.802},{"t":1.31,"y":0.793},{"t":1.35,"y":0.814},{"t":1.39,"y":0.8},{"t":1.42,"y":0.796},{"t":1.46,"y":0.807},{"t":1.5,"y":0.792},{"t":1.54,"y":0.805},{"t":1.57,"y":0.784},{"t":1.61,"y":0.811},{"t":1.65,"y":0.801},{"t":1.69,"y":0.803},{"t":1.72,"y":0.811},{"t":1.76,"y":0.795},{"t":1.8,"y":0.813},{"t":1.84,"y":0.8},{"t":1.87,"y":0.817},{"t":1.91,"y":0.804},{"t":1.95,"y":0.809},{"t":1.99,"y":0.798},{"t":2.02,"y":0.818},{"t":2.06,"y":0.794},{"t":2.1,"y":0.807},{"t":2.14,"y":0.81},{"t":2.17,"y":0.799},{"t":2.21,"y":0.815}],
"p5": [{"t":-2.27,"y":0.746},{"t":-2.23,"y":0.756},{"t":-2.2,"y":0.741},{"t":-2.16,"y":0.759},{"t":-2.12,"y":0.754},{"t":-2.08,"y":0.75},{"t":-2.05,"y":0.762},{"t":-2.01,"y":0.745},{"t":-1.97,"y":0.757},{"t":-1.93,"y":0.748},{"t":-1.9,"y":0.763},{"t":-1.86,"y":0.751},{"t":-1.82,"y":0.76},{"t":-1.78,"y":0.744},{"t":-1.75,"y":0.756},{"t":-1.71,"y":0.752},{"t":-1.67,"y":0.758},{"t":-1.63,"y":0.742},{"t":-1.6,"y":0.761},{"t":-1.56,"y":0.749},{"t":-1.52,"y":0.755},{"t":-1.48,"y":0.747},{"t":-1.45,"y":0.765},{"t":-1.41,"y":0.753},{"t":-1.37,"y":0.75},{"t":-1.33,"y":0.759},{"t":-1.3,"y":0.746},{"t":-1.26,"y":0.757},{"t":-1.22,"y":0.74},{"t":-1.18,"y":0.762},{"t":-1.15,"y":0.754},{"t":-1.11,"y":0.748},{"t":-1.07,"y":0.755},{"t":-1.03,"y":0.742},{"t":-1,"y":0.757},{"t":-0.96,"y":0.746},{"t":-0.92,"y":0.76},{"t":-0.88,"y":0.749},{"t":-0.85,"y":0.753},{"t":-0.81,"y":0.744},{"t":-0.77,"y":0.761},{"t":-0.73,"y":0.741},{"t":-0.7,"y":0.752},{"t":-0.66,"y":0.754},{"t":-0.62,"y":0.745},{"t":-0.58,"y":0.758},{"t":-0.55,"y":0.747},{"t":-0.51,"y":0.75},{"t":-0.47,"y":0.731},{"t":-0.43,"y":0.747},{"t":-0.4,"y":0.739},{"t":-0.36,"y":0.75},{"t":-0.32,"y":0.734},{"t":-0.28,"y":0.745},{"t":-0.25,"y":0.743},{"t":-0.21,"y":0.738},{"t":-0.17,"y":0.745},{"t":-0.13,"y":0.729},{"t":-0.1,"y":0.742},{"t":-0.06,"y":0.732},{"t":-0.02,"y":0.734},{"t":0.02,"y":0.741},{"t":0.05,"y":0.723},{"t":0.09,"y":0.734},{"t":0.13,"y":0.721},{"t":0.17,"y":0.742},{"t":0.2,"y":0.746},{"t":0.24,"y":0.737},{"t":0.28,"y":0.728},{"t":0.32,"y":0.749},{"t":0.35,"y":0.745},{"t":0.39,"y":0.738},{"t":0.43,"y":0.753},{"t":0.47,"y":0.743},{"t":0.5,"y":0.755},{"t":0.54,"y":0.744},{"t":0.58,"y":0.761},{"t":0.62,"y":0.74},{"t":0.65,"y":0.752},{"t":0.69,"y":0.74},{"t":0.73,"y":0.754},{"t":0.77,"y":0.755},{"t":0.8,"y":0.752},{"t":0.84,"y":0.765},{"t":0.88,"y":0.749},{"t":0.92,"y":0.758},{"t":0.95,"y":0.754},{"t":0.99,"y":0.762},{"t":1.03,"y":0.744},{"t":1.07,"y":0.76},{"t":1.1,"y":0.753},{"t":1.14,"y":0.763},{"t":1.18,"y":0.75},{"t":1.22,"y":0.756},{"t":1.25,"y":0.748},{"t":1.29,"y":0.767},{"t":1.33,"y":0.751},{"t":1.37,"y":0.761},{"t":1.4,"y":0.746},{"t":1.44,"y":0.757},{"t":1.48,"y":0.755},{"t":1.52,"y":0.741},{"t":1.55,"y":0.764},{"t":1.59,"y":0.758},{"t":1.63,"y":0.75},{"t":1.67,"y":0.761},{"t":1.7,"y":0.753},{"t":1.74,"y":0.766},{"t":1.78,"y":0.747},{"t":1.82,"y":0.759},{"t":1.85,"y":0.752},{"t":1.89,"y":0.762},{"t":1.93,"y":0.754},{"t":1.97,"y":0.745},{"t":2,"y":0.76},{"t":2.04,"y":0.757},{"t":2.08,"y":0.749},{"t":2.12,"y":0.769},{"t":2.15,"y":0.751},{"t":2.19,"y":0.763},{"t":2.23,"y":0.755},
{"t":-2.25,"y":0.753},{"t":-2.21,"y":0.766},{"t":-2.18,"y":0.745},{"t":-2.14,"y":0.758},{"t":-2.1,"y":0.742},{"t":-2.06,"y":0.755},{"t":-2.03,"y":0.76},{"t":-1.99,"y":0.749},{"t":-1.95,"y":0.739},{"t":-1.91,"y":0.759},{"t":-1.88,"y":0.754},{"t":-1.84,"y":0.746},{"t":-1.8,"y":0.764},{"t":-1.76,"y":0.752},{"t":-1.73,"y":0.761},{"t":-1.69,"y":0.748},{"t":-1.65,"y":0.769},{"t":-1.61,"y":0.743},{"t":-1.58,"y":0.755},{"t":-1.54,"y":0.741},{"t":-1.5,"y":0.758},{"t":-1.46,"y":0.753},{"t":-1.43,"y":0.749},{"t":-1.39,"y":0.765},{"t":-1.35,"y":0.746},{"t":-1.31,"y":0.757},{"t":-1.28,"y":0.752},{"t":-1.24,"y":0.761},{"t":-1.2,"y":0.74},{"t":-1.16,"y":0.759},{"t":-1.13,"y":0.751},{"t":-1.09,"y":0.76},{"t":-1.05,"y":0.744},{"t":-1.01,"y":0.751},{"t":-0.98,"y":0.742},{"t":-0.94,"y":0.764},{"t":-0.9,"y":0.745},{"t":-0.86,"y":0.757},{"t":-0.83,"y":0.739},{"t":-0.79,"y":0.752},{"t":-0.75,"y":0.75},{"t":-0.71,"y":0.733},{"t":-0.68,"y":0.761},{"t":-0.64,"y":0.754},{"t":-0.6,"y":0.744},{"t":-0.56,"y":0.757},{"t":-0.53,"y":0.748},{"t":-0.49,"y":0.763},{"t":-0.45,"y":0.731},{"t":-0.41,"y":0.746},{"t":-0.38,"y":0.737},{"t":-0.34,"y":0.749},{"t":-0.3,"y":0.74},{"t":-0.26,"y":0.73},{"t":-0.23,"y":0.748},{"t":-0.19,"y":0.744},{"t":-0.15,"y":0.735},{"t":-0.11,"y":0.751},{"t":-0.08,"y":0.729},{"t":-0.04,"y":0.744},{"t":0,"y":0.734},{"t":0.04,"y":0.722},{"t":0.07,"y":0.734},{"t":0.11,"y":0.716},{"t":0.15,"y":0.737},{"t":0.19,"y":0.741},{"t":0.22,"y":0.736},{"t":0.26,"y":0.751},{"t":0.3,"y":0.73},{"t":0.34,"y":0.749},{"t":0.37,"y":0.738},{"t":0.41,"y":0.756},{"t":0.45,"y":0.742},{"t":0.49,"y":0.752},{"t":0.52,"y":0.737},{"t":0.56,"y":0.752},{"t":0.6,"y":0.747},{"t":0.64,"y":0.754},{"t":0.67,"y":0.737},{"t":0.71,"y":0.76},{"t":0.75,"y":0.745},{"t":0.79,"y":0.757},{"t":0.82,"y":0.748},{"t":0.86,"y":0.769},{"t":0.9,"y":0.755},{"t":0.94,"y":0.751},{"t":0.97,"y":0.762},{"t":1.01,"y":0.747},{"t":1.05,"y":0.76},{"t":1.09,"y":0.739},{"t":1.12,"y":0.766},{"t":1.16,"y":0.756},{"t":1.2,"y":0.753},{"t":1.24,"y":0.761},{"t":1.27,"y":0.745},{"t":1.31,"y":0.763},{"t":1.35,"y":0.75},{"t":1.39,"y":0.767},{"t":1.42,"y":0.754},{"t":1.46,"y":0.759},{"t":1.5,"y":0.748},{"t":1.54,"y":0.768},{"t":1.57,"y":0.744},{"t":1.61,"y":0.757},{"t":1.65,"y":0.76},{"t":1.69,"y":0.749},{"t":1.72,"y":0.765},{"t":1.76,"y":0.751},{"t":1.8,"y":0.755},{"t":1.84,"y":0.743},{"t":1.87,"y":0.762},{"t":1.91,"y":0.753},{"t":1.95,"y":0.766},{"t":1.99,"y":0.747},{"t":2.02,"y":0.759},{"t":2.06,"y":0.756},{"t":2.1,"y":0.75},{"t":2.14,"y":0.759},{"t":2.17,"y":0.749},{"t":2.21,"y":0.765}],
"p6": [{"t":-2.27,"y":0.697},{"t":-2.23,"y":0.709},{"t":-2.2,"y":0.705},{"t":-2.16,"y":0.711},{"t":-2.12,"y":0.695},{"t":-2.08,"y":0.714},{"t":-2.05,"y":0.702},{"t":-2.01,"y":0.708},{"t":-1.97,"y":0.7},{"t":-1.93,"y":0.718},{"t":-1.9,"y":0.706},{"t":-1.86,"y":0.703},{"t":-1.82,"y":0.712},{"t":-1.78,"y":0.699},{"t":-1.75,"y":0.71},{"t":-1.71,"y":0.693},{"t":-1.67,"y":0.715},{"t":-1.63,"y":0.707},{"t":-1.6,"y":0.704},{"t":-1.56,"y":0.708},{"t":-1.52,"y":0.695},{"t":-1.48,"y":0.71},{"t":-1.45,"y":0.699},{"t":-1.41,"y":0.713},{"t":-1.37,"y":0.702},{"t":-1.33,"y":0.706},{"t":-1.3,"y":0.697},{"t":-1.26,"y":0.714},{"t":-1.22,"y":0.694},{"t":-1.18,"y":0.705},{"t":-1.15,"y":0.707},{"t":-1.11,"y":0.695},{"t":-1.07,"y":0.708},{"t":-1.03,"y":0.697},{"t":-1,"y":0.7},{"t":-0.96,"y":0.69},{"t":-0.92,"y":0.706},{"t":-0.88,"y":0.698},{"t":-0.85,"y":0.709},{"t":-0.81,"y":0.693},{"t":-0.77,"y":0.703},{"t":-0.73,"y":0.701},{"t":-0.7,"y":0.696},{"t":-0.66,"y":0.703},{"t":-0.62,"y":0.695},{"t":-0.58,"y":0.708},{"t":-0.55,"y":0.698},{"t":-0.51,"y":0.7},{"t":-0.47,"y":0.704},{"t":-0.43,"y":0.686},{"t":-0.4,"y":0.697},{"t":-0.36,"y":0.684},{"t":-0.32,"y":0.695},{"t":-0.28,"y":0.699},{"t":-0.25,"y":0.69},{"t":-0.21,"y":0.681},{"t":-0.17,"y":0.698},{"t":-0.13,"y":0.695},{"t":-0.1,"y":0.688},{"t":-0.06,"y":0.703},{"t":-0.02,"y":0.693},{"t":0.02,"y":0.697},{"t":0.05,"y":0.686},{"t":0.09,"y":0.703},{"t":0.13,"y":0.682},{"t":0.17,"y":0.692},{"t":0.2,"y":0.68},{"t":0.24,"y":0.694},{"t":0.28,"y":0.69},{"t":0.32,"y":0.689},{"t":0.35,"y":0.702},{"t":0.39,"y":0.686},{"t":0.43,"y":0.695},{"t":0.47,"y":0.691},{"t":0.5,"y":0.703},{"t":0.54,"y":0.685},{"t":0.58,"y":0.701},{"t":0.62,"y":0.694},{"t":0.65,"y":0.708},{"t":0.69,"y":0.695},{"t":0.73,"y":0.701},{"t":0.77,"y":0.693},{"t":0.8,"y":0.712},{"t":0.84,"y":0.696},{"t":0.88,"y":0.706},{"t":0.92,"y":0.691},{"t":0.95,"y":0.702},{"t":0.99,"y":0.7},{"t":1.03,"y":0.686},{"t":1.07,"y":0.709},{"t":1.1,"y":0.703},{"t":1.14,"y":0.695},{"t":1.18,"y":0.706},{"t":1.22,"y":0.698},{"t":1.25,"y":0.711},{"t":1.29,"y":0.692},{"t":1.33,"y":0.704},{"t":1.37,"y":0.697},{"t":1.4,"y":0.707},{"t":1.44,"y":0.699},{"t":1.48,"y":0.69},{"t":1.52,"y":0.705},{"t":1.55,"y":0.702},{"t":1.59,"y":0.694},{"t":1.63,"y":0.714},{"t":1.67,"y":0.696},{"t":1.7,"y":0.708},{"t":1.74,"y":0.7},{"t":1.78,"y":0.693},{"t":1.82,"y":0.703},{"t":1.85,"y":0.688},{"t":1.89,"y":0.706},{"t":1.93,"y":0.701},{"t":1.97,"y":0.697},{"t":2,"y":0.709},{"t":2.04,"y":0.692},{"t":2.08,"y":0.704},{"t":2.12,"y":0.695},{"t":2.15,"y":0.71},{"t":2.19,"y":0.698},{"t":2.23,"y":0.707},
{"t":-2.25,"y":0.705},{"t":-2.21,"y":0.714},{"t":-2.18,"y":0.701},{"t":-2.14,"y":0.722},{"t":-2.1,"y":0.696},{"t":-2.06,"y":0.708},{"t":-2.03,"y":0.694},{"t":-1.99,"y":0.711},{"t":-1.95,"y":0.706},{"t":-1.91,"y":0.702},{"t":-1.88,"y":0.718},{"t":-1.84,"y":0.699},{"t":-1.8,"y":0.71},{"t":-1.76,"y":0.705},{"t":-1.73,"y":0.714},{"t":-1.69,"y":0.693},{"t":-1.65,"y":0.712},{"t":-1.61,"y":0.704},{"t":-1.58,"y":0.716},{"t":-1.54,"y":0.697},{"t":-1.5,"y":0.704},{"t":-1.46,"y":0.695},{"t":-1.43,"y":0.717},{"t":-1.39,"y":0.698},{"t":-1.35,"y":0.71},{"t":-1.31,"y":0.692},{"t":-1.28,"y":0.705},{"t":-1.24,"y":0.703},{"t":-1.2,"y":0.686},{"t":-1.16,"y":0.714},{"t":-1.13,"y":0.707},{"t":-1.09,"y":0.694},{"t":-1.05,"y":0.707},{"t":-1.01,"y":0.698},{"t":-0.98,"y":0.713},{"t":-0.94,"y":0.69},{"t":-0.9,"y":0.705},{"t":-0.86,"y":0.696},{"t":-0.83,"y":0.708},{"t":-0.79,"y":0.699},{"t":-0.75,"y":0.688},{"t":-0.71,"y":0.706},{"t":-0.68,"y":0.702},{"t":-0.64,"y":0.693},{"t":-0.6,"y":0.717},{"t":-0.56,"y":0.695},{"t":-0.53,"y":0.71},{"t":-0.49,"y":0.7},{"t":-0.45,"y":0.685},{"t":-0.41,"y":0.697},{"t":-0.38,"y":0.679},{"t":-0.34,"y":0.7},{"t":-0.3,"y":0.694},{"t":-0.26,"y":0.689},{"t":-0.23,"y":0.704},{"t":-0.19,"y":0.683},{"t":-0.15,"y":0.698},{"t":-0.11,"y":0.688},{"t":-0.08,"y":0.706},{"t":-0.04,"y":0.692},{"t":0,"y":0.702},{"t":0.04,"y":0.679},{"t":0.07,"y":0.694},{"t":0.11,"y":0.689},{"t":0.15,"y":0.696},{"t":0.19,"y":0.677},{"t":0.22,"y":0.7},{"t":0.26,"y":0.685},{"t":0.3,"y":0.692},{"t":0.34,"y":0.685},{"t":0.37,"y":0.706},{"t":0.41,"y":0.692},{"t":0.45,"y":0.688},{"t":0.49,"y":0.699},{"t":0.52,"y":0.688},{"t":0.56,"y":0.701},{"t":0.6,"y":0.68},{"t":0.64,"y":0.707},{"t":0.67,"y":0.701},{"t":0.71,"y":0.698},{"t":0.75,"y":0.706},{"t":0.79,"y":0.69},{"t":0.82,"y":0.708},{"t":0.86,"y":0.695},{"t":0.9,"y":0.712},{"t":0.94,"y":0.699},{"t":0.97,"y":0.704},{"t":1.01,"y":0.693},{"t":1.05,"y":0.713},{"t":1.09,"y":0.689},{"t":1.12,"y":0.702},{"t":1.16,"y":0.705},{"t":1.2,"y":0.694},{"t":1.24,"y":0.71},{"t":1.27,"y":0.696},{"t":1.31,"y":0.7},{"t":1.35,"y":0.688},{"t":1.39,"y":0.707},{"t":1.42,"y":0.698},{"t":1.46,"y":0.711},{"t":1.5,"y":0.692},{"t":1.54,"y":0.704},{"t":1.57,"y":0.701},{"t":1.61,"y":0.695},{"t":1.65,"y":0.704},{"t":1.69,"y":0.694},{"t":1.72,"y":0.71},{"t":1.76,"y":0.698},{"t":1.8,"y":0.7},{"t":1.84,"y":0.713},{"t":1.87,"y":0.692},{"t":1.91,"y":0.705},{"t":1.95,"y":0.689},{"t":1.99,"y":0.702},{"t":2.02,"y":0.707},{"t":2.06,"y":0.696},{"t":2.1,"y":0.686},{"t":2.14,"y":0.706},{"t":2.17,"y":0.701},{"t":2.21,"y":0.693}],
"p7": [{"t":-2.27,"y":0.643},{"t":-2.23,"y":0.654},{"t":-2.2,"y":0.637},{"t":-2.16,"y":0.659},{"t":-2.12,"y":0.651},{"t":-2.08,"y":0.648},{"t":-2.05,"y":0.655},{"t":-2.01,"y":0.642},{"t":-1.97,"y":0.657},{"t":-1.93,"y":0.646},{"t":-1.9,"y":0.66},{"t":-1.86,"y":0.649},{"t":-1.82,"y":0.653},{"t":-1.78,"y":0.644},{"t":-1.75,"y":0.661},{"t":-1.71,"y":0.641},{"t":-1.67,"y":0.652},{"t":-1.63,"y":0.654},{"t":-1.6,"y":0.645},{"t":-1.56,"y":0.658},{"t":-1.52,"y":0.647},{"t":-1.48,"y":0.65},{"t":-1.45,"y":0.64},{"t":-1.41,"y":0.656},{"t":-1.37,"y":0.648},{"t":-1.33,"y":0.659},{"t":-1.3,"y":0.643},{"t":-1.26,"y":0.653},{"t":-1.22,"y":0.651},{"t":-1.18,"y":0.646},{"t":-1.15,"y":0.653},{"t":-1.11,"y":0.645},{"t":-1.07,"y":0.658},{"t":-1.03,"y":0.648},{"t":-1,"y":0.65},{"t":-0.96,"y":0.661},{"t":-0.92,"y":0.643},{"t":-0.88,"y":0.654},{"t":-0.85,"y":0.641},{"t":-0.81,"y":0.652},{"t":-0.77,"y":0.656},{"t":-0.73,"y":0.647},{"t":-0.7,"y":0.638},{"t":-0.66,"y":0.655},{"t":-0.62,"y":0.651},{"t":-0.58,"y":0.644},{"t":-0.55,"y":0.659},{"t":-0.51,"y":0.649},{"t":-0.47,"y":0.657},{"t":-0.43,"y":0.646},{"t":-0.4,"y":0.663},{"t":-0.36,"y":0.642},{"t":-0.32,"y":0.652},{"t":-0.28,"y":0.635},{"t":-0.25,"y":0.649},{"t":-0.21,"y":0.645},{"t":-0.17,"y":0.642},{"t":-0.13,"y":0.653},{"t":-0.1,"y":0.637},{"t":-0.06,"y":0.646},{"t":-0.02,"y":0.642},{"t":0.02,"y":0.65},{"t":0.05,"y":0.632},{"t":0.09,"y":0.648},{"t":0.13,"y":0.641},{"t":0.17,"y":0.651},{"t":0.2,"y":0.638},{"t":0.24,"y":0.644},{"t":0.28,"y":0.636},{"t":0.32,"y":0.655},{"t":0.35,"y":0.639},{"t":0.39,"y":0.649},{"t":0.43,"y":0.634},{"t":0.47,"y":0.65},{"t":0.5,"y":0.648},{"t":0.54,"y":0.634},{"t":0.58,"y":0.657},{"t":0.62,"y":0.653},{"t":0.65,"y":0.645},{"t":0.69,"y":0.656},{"t":0.73,"y":0.648},{"t":0.77,"y":0.661},{"t":0.8,"y":0.642},{"t":0.84,"y":0.654},{"t":0.88,"y":0.647},{"t":0.92,"y":0.657},{"t":0.95,"y":0.649},{"t":0.99,"y":0.64},{"t":1.03,"y":0.658},{"t":1.07,"y":0.655},{"t":1.1,"y":0.647},{"t":1.14,"y":0.667},{"t":1.18,"y":0.649},{"t":1.22,"y":0.661},{"t":1.25,"y":0.653},{"t":1.29,"y":0.646},{"t":1.33,"y":0.656},{"t":1.37,"y":0.641},{"t":1.4,"y":0.659},{"t":1.44,"y":0.654},{"t":1.48,"y":0.65},{"t":1.52,"y":0.662},{"t":1.55,"y":0.645},{"t":1.59,"y":0.657},{"t":1.63,"y":0.648},{"t":1.67,"y":0.663},{"t":1.7,"y":0.651},{"t":1.74,"y":0.66},{"t":1.78,"y":0.644},{"t":1.82,"y":0.656},{"t":1.85,"y":0.652},{"t":1.89,"y":0.658},{"t":1.93,"y":0.642},{"t":1.97,"y":0.661},{"t":2,"y":0.649},{"t":2.04,"y":0.655},{"t":2.08,"y":0.647},{"t":2.12,"y":0.665},{"t":2.15,"y":0.653},{"t":2.19,"y":0.65},{"t":2.23,"y":0.659},
{"t":-2.25,"y":0.649},{"t":-2.21,"y":0.658},{"t":-2.18,"y":0.637},{"t":-2.14,"y":0.656},{"t":-2.1,"y":0.648},{"t":-2.06,"y":0.66},{"t":-2.03,"y":0.644},{"t":-1.99,"y":0.651},{"t":-1.95,"y":0.642},{"t":-1.91,"y":0.664},{"t":-1.88,"y":0.645},{"t":-1.84,"y":0.657},{"t":-1.8,"y":0.639},{"t":-1.76,"y":0.652},{"t":-1.73,"y":0.65},{"t":-1.69,"y":0.633},{"t":-1.65,"y":0.661},{"t":-1.61,"y":0.654},{"t":-1.58,"y":0.644},{"t":-1.54,"y":0.657},{"t":-1.5,"y":0.648},{"t":-1.46,"y":0.663},{"t":-1.43,"y":0.64},{"t":-1.39,"y":0.655},{"t":-1.35,"y":0.646},{"t":-1.31,"y":0.658},{"t":-1.28,"y":0.649},{"t":-1.24,"y":0.638},{"t":-1.2,"y":0.656},{"t":-1.16,"y":0.652},{"t":-1.13,"y":0.643},{"t":-1.09,"y":0.667},{"t":-1.05,"y":0.645},{"t":-1.01,"y":0.66},{"t":-0.98,"y":0.65},{"t":-0.94,"y":0.642},{"t":-0.9,"y":0.654},{"t":-0.86,"y":0.636},{"t":-0.83,"y":0.657},{"t":-0.79,"y":0.651},{"t":-0.75,"y":0.646},{"t":-0.71,"y":0.661},{"t":-0.68,"y":0.64},{"t":-0.64,"y":0.655},{"t":-0.6,"y":0.644},{"t":-0.56,"y":0.662},{"t":-0.53,"y":0.648},{"t":-0.49,"y":0.658},{"t":-0.45,"y":0.639},{"t":-0.41,"y":0.654},{"t":-0.38,"y":0.649},{"t":-0.34,"y":0.656},{"t":-0.3,"y":0.637},{"t":-0.26,"y":0.655},{"t":-0.23,"y":0.64},{"t":-0.19,"y":0.647},{"t":-0.15,"y":0.638},{"t":-0.11,"y":0.657},{"t":-0.08,"y":0.643},{"t":-0.04,"y":0.639},{"t":0,"y":0.65},{"t":0.04,"y":0.635},{"t":0.07,"y":0.648},{"t":0.11,"y":0.627},{"t":0.15,"y":0.654},{"t":0.19,"y":0.644},{"t":0.22,"y":0.641},{"t":0.26,"y":0.649},{"t":0.3,"y":0.633},{"t":0.34,"y":0.651},{"t":0.37,"y":0.638},{"t":0.41,"y":0.655},{"t":0.45,"y":0.642},{"t":0.49,"y":0.652},{"t":0.52,"y":0.641},{"t":0.56,"y":0.661},{"t":0.6,"y":0.637},{"t":0.64,"y":0.652},{"t":0.67,"y":0.655},{"t":0.71,"y":0.644},{"t":0.75,"y":0.66},{"t":0.79,"y":0.646},{"t":0.82,"y":0.65},{"t":0.86,"y":0.638},{"t":0.9,"y":0.657},{"t":0.94,"y":0.648},{"t":0.97,"y":0.661},{"t":1.01,"y":0.642},{"t":1.05,"y":0.657},{"t":1.09,"y":0.654},{"t":1.12,"y":0.648},{"t":1.16,"y":0.657},{"t":1.2,"y":0.647},{"t":1.24,"y":0.663},{"t":1.27,"y":0.651},{"t":1.31,"y":0.653},{"t":1.35,"y":0.666},{"t":1.39,"y":0.645},{"t":1.42,"y":0.658},{"t":1.46,"y":0.642},{"t":1.5,"y":0.655},{"t":1.54,"y":0.66},{"t":1.57,"y":0.649},{"t":1.61,"y":0.639},{"t":1.65,"y":0.659},{"t":1.69,"y":0.654},{"t":1.72,"y":0.646},{"t":1.76,"y":0.664},{"t":1.8,"y":0.652},{"t":1.84,"y":0.661},{"t":1.87,"y":0.648},{"t":1.91,"y":0.669},{"t":1.95,"y":0.643},{"t":1.99,"y":0.655},{"t":2.02,"y":0.641},{"t":2.06,"y":0.658},{"t":2.1,"y":0.653},{"t":2.14,"y":0.649},{"t":2.17,"y":0.665},{"t":2.21,"y":0.646}],
"p8": [{"t":-2.27,"y":0.596},{"t":-2.23,"y":0.613},{"t":-2.2,"y":0.593},{"t":-2.16,"y":0.604},{"t":-2.12,"y":0.606},{"t":-2.08,"y":0.597},{"t":-2.05,"y":0.61},{"t":-2.01,"y":0.599},{"t":-1.97,"y":0.602},{"t":-1.93,"y":0.592},{"t":-1.9,"y":0.608},{"t":-1.86,"y":0.6},{"t":-1.82,"y":0.611},{"t":-1.78,"y":0.595},{"t":-1.75,"y":0.605},{"t":-1.71,"y":0.603},{"t":-1.67,"y":0.598},{"t":-1.63,"y":0.605},{"t":-1.6,"y":0.597},{"t":-1.56,"y":0.61},{"t":-1.52,"y":0.6},{"t":-1.48,"y":0.602},{"t":-1.45,"y":0.613},{"t":-1.41,"y":0.595},{"t":-1.37,"y":0.606},{"t":-1.33,"y":0.593},{"t":-1.3,"y":0.604},{"t":-1.26,"y":0.608},{"t":-1.22,"y":0.599},{"t":-1.18,"y":0.59},{"t":-1.15,"y":0.607},{"t":-1.11,"y":0.603},{"t":-1.07,"y":0.596},{"t":-1.03,"y":0.611},{"t":-1,"y":0.601},{"t":-0.96,"y":0.609},{"t":-0.92,"y":0.598},{"t":-0.88,"y":0.615},{"t":-0.85,"y":0.594},{"t":-0.81,"y":0.604},{"t":-0.77,"y":0.592},{"t":-0.73,"y":0.606},{"t":-0.7,"y":0.602},{"t":-0.66,"y":0.599},{"t":-0.62,"y":0.612},{"t":-0.58,"y":0.596},{"t":-0.55,"y":0.605},{"t":-0.51,"y":0.601},{"t":-0.47,"y":0.609},{"t":-0.43,"y":0.591},{"t":-0.4,"y":0.607},{"t":-0.36,"y":0.6},{"t":-0.32,"y":0.61},{"t":-0.28,"y":0.588},{"t":-0.25,"y":0.594},{"t":-0.21,"y":0.586},{"t":-0.17,"y":0.605},{"t":-0.13,"y":0.589},{"t":-0.1,"y":0.599},{"t":-0.06,"y":0.584},{"t":-0.02,"y":0.595},{"t":0.02,"y":0.587},{"t":0.05,"y":0.573},{"t":0.09,"y":0.596},{"t":0.13,"y":0.59},{"t":0.17,"y":0.58},{"t":0.2,"y":0.591},{"t":0.24,"y":0.583},{"t":0.28,"y":0.596},{"t":0.32,"y":0.576},{"t":0.35,"y":0.588},{"t":0.39,"y":0.581},{"t":0.43,"y":0.591},{"t":0.47,"y":0.583},{"t":0.5,"y":0.58},{"t":0.54,"y":0.595},{"t":0.58,"y":0.592},{"t":0.62,"y":0.584},{"t":0.65,"y":0.614},{"t":0.69,"y":0.596},{"t":0.73,"y":0.608},{"t":0.77,"y":0.6},{"t":0.8,"y":0.593},{"t":0.84,"y":0.603},{"t":0.88,"y":0.588},{"t":0.92,"y":0.606},{"t":0.95,"y":0.601},{"t":0.99,"y":0.597},{"t":1.03,"y":0.609},{"t":1.07,"y":0.592},{"t":1.1,"y":0.604},{"t":1.14,"y":0.595},{"t":1.18,"y":0.61},{"t":1.22,"y":0.598},{"t":1.25,"y":0.607},{"t":1.29,"y":0.591},{"t":1.33,"y":0.603},{"t":1.37,"y":0.599},{"t":1.4,"y":0.605},{"t":1.44,"y":0.589},{"t":1.48,"y":0.608},{"t":1.52,"y":0.596},{"t":1.55,"y":0.602},{"t":1.59,"y":0.594},{"t":1.63,"y":0.612},{"t":1.67,"y":0.6},{"t":1.7,"y":0.597},{"t":1.74,"y":0.606},{"t":1.78,"y":0.593},{"t":1.82,"y":0.604},{"t":1.85,"y":0.587},{"t":1.89,"y":0.609},{"t":1.93,"y":0.601},{"t":1.97,"y":0.598},{"t":2,"y":0.605},{"t":2.04,"y":0.592},{"t":2.08,"y":0.607},{"t":2.12,"y":0.596},{"t":2.15,"y":0.61},{"t":2.19,"y":0.599},{"t":2.23,"y":0.603},
{"t":-2.25,"y":0.604},{"t":-2.21,"y":0.602},{"t":-2.18,"y":0.585},{"t":-2.14,"y":0.613},{"t":-2.1,"y":0.606},{"t":-2.06,"y":0.596},{"t":-2.03,"y":0.609},{"t":-1.99,"y":0.6},{"t":-1.95,"y":0.615},{"t":-1.91,"y":0.592},{"t":-1.88,"y":0.607},{"t":-1.84,"y":0.598},{"t":-1.8,"y":0.61},{"t":-1.76,"y":0.601},{"t":-1.73,"y":0.59},{"t":-1.69,"y":0.608},{"t":-1.65,"y":0.604},{"t":-1.61,"y":0.595},{"t":-1.58,"y":0.619},{"t":-1.54,"y":0.597},{"t":-1.5,"y":0.612},{"t":-1.46,"y":0.602},{"t":-1.43,"y":0.594},{"t":-1.39,"y":0.606},{"t":-1.35,"y":0.588},{"t":-1.31,"y":0.609},{"t":-1.28,"y":0.603},{"t":-1.24,"y":0.598},{"t":-1.2,"y":0.613},{"t":-1.16,"y":0.592},{"t":-1.13,"y":0.607},{"t":-1.09,"y":0.596},{"t":-1.05,"y":0.614},{"t":-1.01,"y":0.6},{"t":-0.98,"y":0.61},{"t":-0.94,"y":0.591},{"t":-0.9,"y":0.606},{"t":-0.86,"y":0.601},{"t":-0.83,"y":0.608},{"t":-0.79,"y":0.589},{"t":-0.75,"y":0.612},{"t":-0.71,"y":0.597},{"t":-0.68,"y":0.604},{"t":-0.64,"y":0.595},{"t":-0.6,"y":0.616},{"t":-0.56,"y":0.602},{"t":-0.53,"y":0.598},{"t":-0.49,"y":0.609},{"t":-0.45,"y":0.594},{"t":-0.41,"y":0.607},{"t":-0.38,"y":0.586},{"t":-0.34,"y":0.613},{"t":-0.3,"y":0.603},{"t":-0.26,"y":0.591},{"t":-0.23,"y":0.599},{"t":-0.19,"y":0.583},{"t":-0.15,"y":0.601},{"t":-0.11,"y":0.588},{"t":-0.08,"y":0.605},{"t":-0.04,"y":0.592},{"t":0,"y":0.597},{"t":0.04,"y":0.58},{"t":0.07,"y":0.6},{"t":0.11,"y":0.576},{"t":0.15,"y":0.589},{"t":0.19,"y":0.59},{"t":0.22,"y":0.579},{"t":0.26,"y":0.595},{"t":0.3,"y":0.581},{"t":0.34,"y":0.584},{"t":0.37,"y":0.572},{"t":0.41,"y":0.591},{"t":0.45,"y":0.582},{"t":0.49,"y":0.595},{"t":0.52,"y":0.582},{"t":0.56,"y":0.594},{"t":0.6,"y":0.591},{"t":0.64,"y":0.585},{"t":0.67,"y":0.604},{"t":0.71,"y":0.594},{"t":0.75,"y":0.61},{"t":0.79,"y":0.598},{"t":0.82,"y":0.6},{"t":0.86,"y":0.613},{"t":0.9,"y":0.592},{"t":0.94,"y":0.605},{"t":0.97,"y":0.589},{"t":1.01,"y":0.602},{"t":1.05,"y":0.607},{"t":1.09,"y":0.596},{"t":1.12,"y":0.586},{"t":1.16,"y":0.606},{"t":1.2,"y":0.601},{"t":1.24,"y":0.593},{"t":1.27,"y":0.611},{"t":1.31,"y":0.599},{"t":1.35,"y":0.608},{"t":1.39,"y":0.595},{"t":1.42,"y":0.616},{"t":1.46,"y":0.59},{"t":1.5,"y":0.602},{"t":1.54,"y":0.588},{"t":1.57,"y":0.605},{"t":1.61,"y":0.6},{"t":1.65,"y":0.596},{"t":1.69,"y":0.612},{"t":1.72,"y":0.593},{"t":1.76,"y":0.604},{"t":1.8,"y":0.599},{"t":1.84,"y":0.608},{"t":1.87,"y":0.587},{"t":1.91,"y":0.606},{"t":1.95,"y":0.598},{"t":1.99,"y":0.61},{"t":2.02,"y":0.594},{"t":2.06,"y":0.601},{"t":2.1,"y":0.592},{"t":2.14,"y":0.614},{"t":2.17,"y":0.595},{"t":2.21,"y":0.607}],
"p9": [{"t":-2.27,"y":0.546},{"t":-2.23,"y":0.556},{"t":-2.2,"y":0.554},{"t":-2.16,"y":0.549},{"t":-2.12,"y":0.556},{"t":-2.08,"y":0.548},{"t":-2.05,"y":0.561},{"t":-2.01,"y":0.551},{"t":-1.97,"y":0.553},{"t":-1.93,"y":0.564},{"t":-1.9,"y":0.546},{"t":-1.86,"y":0.557},{"t":-1.82,"y":0.544},{"t":-1.78,"y":0.555},{"t":-1.75,"y":0.559},{"t":-1.71,"y":0.55},{"t":-1.67,"y":0.541},{"t":-1.63,"y":0.558},{"t":-1.6,"y":0.554},{"t":-1.56,"y":0.547},{"t":-1.52,"y":0.562},{"t":-1.48,"y":0.552},{"t":-1.45,"y":0.56},{"t":-1.41,"y":0.549},{"t":-1.37,"y":0.566},{"t":-1.33,"y":0.545},{"t":-1.3,"y":0.555},{"t":-1.26,"y":0.543},{"t":-1.22,"y":0.557},{"t":-1.18,"y":0.553},{"t":-1.15,"y":0.55},{"t":-1.11,"y":0.563},{"t":-1.07,"y":0.547},{"t":-1.03,"y":0.556},{"t":-1,"y":0.552},{"t":-0.96,"y":0.56},{"t":-0.92,"y":0.542},{"t":-0.88,"y":0.558},{"t":-0.85,"y":0.551},{"t":-0.81,"y":0.561},{"t":-0.77,"y":0.548},{"t":-0.73,"y":0.554},{"t":-0.7,"y":0.546},{"t":-0.66,"y":0.565},{"t":-0.62,"y":0.549},{"t":-0.58,"y":0.559},{"t":-0.55,"y":0.544},{"t":-0.51,"y":0.555},{"t":-0.47,"y":0.553},{"t":-0.43,"y":0.539},{"t":-0.4,"y":0.562},{"t":-0.36,"y":0.556},{"t":-0.32,"y":0.548},{"t":-0.28,"y":0.546},{"t":-0.25,"y":0.538},{"t":-0.21,"y":0.551},{"t":-0.17,"y":0.532},{"t":-0.13,"y":0.547},{"t":-0.1,"y":0.54},{"t":-0.06,"y":0.55},{"t":-0.02,"y":0.542},{"t":0.02,"y":0.531},{"t":0.05,"y":0.546},{"t":0.09,"y":0.543},{"t":0.13,"y":0.535},{"t":0.17,"y":0.555},{"t":0.2,"y":0.537},{"t":0.24,"y":0.549},{"t":0.28,"y":0.541},{"t":0.32,"y":0.537},{"t":0.35,"y":0.547},{"t":0.39,"y":0.532},{"t":0.43,"y":0.55},{"t":0.47,"y":0.545},{"t":0.5,"y":0.543},{"t":0.54,"y":0.555},{"t":0.58,"y":0.538},{"t":0.62,"y":0.55},{"t":0.65,"y":0.545},{"t":0.69,"y":0.56},{"t":0.73,"y":0.548},{"t":0.77,"y":0.557},{"t":0.8,"y":0.541},{"t":0.84,"y":0.553},{"t":0.88,"y":0.549},{"t":0.92,"y":0.555},{"t":0.95,"y":0.539},{"t":0.99,"y":0.558},{"t":1.03,"y":0.548},{"t":1.07,"y":0.554},{"t":1.1,"y":0.546},{"t":1.14,"y":0.564},{"t":1.18,"y":0.552},{"t":1.22,"y":0.549},{"t":1.25,"y":0.558},{"t":1.29,"y":0.545},{"t":1.33,"y":0.556},{"t":1.37,"y":0.539},{"t":1.4,"y":0.561},{"t":1.44,"y":0.553},{"t":1.48,"y":0.55},{"t":1.52,"y":0.557},{"t":1.55,"y":0.544},{"t":1.59,"y":0.559},{"t":1.63,"y":0.548},{"t":1.67,"y":0.562},{"t":1.7,"y":0.551},{"t":1.74,"y":0.555},{"t":1.78,"y":0.546},{"t":1.82,"y":0.563},{"t":1.85,"y":0.543},{"t":1.89,"y":0.554},{"t":1.93,"y":0.556},{"t":1.97,"y":0.547},{"t":2,"y":0.56},{"t":2.04,"y":0.549},{"t":2.08,"y":0.552},{"t":2.12,"y":0.542},{"t":2.15,"y":0.558},{"t":2.19,"y":0.55},{"t":2.23,"y":0.561},
{"t":-2.25,"y":0.552},{"t":-2.21,"y":0.541},{"t":-2.18,"y":0.559},{"t":-2.14,"y":0.555},{"t":-2.1,"y":0.546},{"t":-2.06,"y":0.57},{"t":-2.03,"y":0.548},{"t":-1.99,"y":0.563},{"t":-1.95,"y":0.553},{"t":-1.91,"y":0.545},{"t":-1.88,"y":0.557},{"t":-1.84,"y":0.539},{"t":-1.8,"y":0.56},{"t":-1.76,"y":0.554},{"t":-1.73,"y":0.549},{"t":-1.69,"y":0.564},{"t":-1.65,"y":0.543},{"t":-1.61,"y":0.558},{"t":-1.58,"y":0.547},{"t":-1.54,"y":0.565},{"t":-1.5,"y":0.551},{"t":-1.46,"y":0.561},{"t":-1.43,"y":0.542},{"t":-1.39,"y":0.557},{"t":-1.35,"y":0.552},{"t":-1.31,"y":0.559},{"t":-1.28,"y":0.54},{"t":-1.24,"y":0.563},{"t":-1.2,"y":0.548},{"t":-1.16,"y":0.555},{"t":-1.13,"y":0.546},{"t":-1.09,"y":0.567},{"t":-1.05,"y":0.553},{"t":-1.01,"y":0.549},{"t":-0.98,"y":0.56},{"t":-0.94,"y":0.545},{"t":-0.9,"y":0.558},{"t":-0.86,"y":0.537},{"t":-0.83,"y":0.564},{"t":-0.79,"y":0.554},{"t":-0.75,"y":0.551},{"t":-0.71,"y":0.559},{"t":-0.68,"y":0.543},{"t":-0.64,"y":0.561},{"t":-0.6,"y":0.548},{"t":-0.56,"y":0.565},{"t":-0.53,"y":0.552},{"t":-0.49,"y":0.557},{"t":-0.45,"y":0.546},{"t":-0.41,"y":0.566},{"t":-0.38,"y":0.542},{"t":-0.34,"y":0.555},{"t":-0.3,"y":0.558},{"t":-0.26,"y":0.534},{"t":-0.23,"y":0.55},{"t":-0.19,"y":0.536},{"t":-0.15,"y":0.54},{"t":-0.11,"y":0.531},{"t":-0.08,"y":0.55},{"t":-0.04,"y":0.541},{"t":0,"y":0.554},{"t":0.04,"y":0.533},{"t":0.07,"y":0.545},{"t":0.11,"y":0.542},{"t":0.15,"y":0.536},{"t":0.19,"y":0.545},{"t":0.22,"y":0.535},{"t":0.26,"y":0.551},{"t":0.3,"y":0.539},{"t":0.34,"y":0.544},{"t":0.37,"y":0.557},{"t":0.41,"y":0.536},{"t":0.45,"y":0.549},{"t":0.49,"y":0.533},{"t":0.52,"y":0.548},{"t":0.56,"y":0.553},{"t":0.6,"y":0.542},{"t":0.64,"y":0.532},{"t":0.67,"y":0.556},{"t":0.71,"y":0.551},{"t":0.75,"y":0.543},{"t":0.79,"y":0.561},{"t":0.82,"y":0.549},{"t":0.86,"y":0.558},{"t":0.9,"y":0.545},{"t":0.94,"y":0.566},{"t":0.97,"y":0.54},{"t":1.01,"y":0.552},{"t":1.05,"y":0.54},{"t":1.09,"y":0.557},{"t":1.12,"y":0.552},{"t":1.16,"y":0.548},{"t":1.2,"y":0.564},{"t":1.24,"y":0.545},{"t":1.27,"y":0.556},{"t":1.31,"y":0.551},{"t":1.35,"y":0.56},{"t":1.39,"y":0.539},{"t":1.42,"y":0.558},{"t":1.46,"y":0.55},{"t":1.5,"y":0.562},{"t":1.54,"y":0.546},{"t":1.57,"y":0.553},{"t":1.61,"y":0.544},{"t":1.65,"y":0.566},{"t":1.69,"y":0.547},{"t":1.72,"y":0.559},{"t":1.76,"y":0.541},{"t":1.8,"y":0.554},{"t":1.84,"y":0.552},{"t":1.87,"y":0.535},{"t":1.91,"y":0.563},{"t":1.95,"y":0.556},{"t":1.99,"y":0.546},{"t":2.02,"y":0.559},{"t":2.06,"y":0.55},{"t":2.1,"y":0.565},{"t":2.14,"y":0.542},{"t":2.17,"y":0.557},{"t":2.21,"y":0.548}],
"bins": [
{"s":0,"t":-2.2,"m":1},{"s":0,"t":-2.1,"m":1.001},{"s":0,"t":-1.95,"m":1.002},{"s":0,"t":-1.8,"m":1.0037},{"s":0,"t":-1.65,"m":1.0037},{"s":0,"t":-1.5,"m":1.002},{"s":0,"t":-1.35,"m":1.004},{"s":0,"t":-1.2,"m":1.004},{"s":0,"t":-1.05,"m":1.004},{"s":0,"t":-0.9,"m":1.004},{"s":0,"t":-0.75,"m":1.004},{"s":0,"t":-0.6,"m":1.0004},{"s":0,"t":-0.45,"m":1},{"s":0,"t":-0.3,"m":1},{"s":0,"t":-0.15,"m":1},{"s":0,"t":0,"m":0.9973},{"s":0,"t":0.15,"m":1},{"s":0,"t":0.3,"m":1},{"s":0,"t":0.45,"m":1},{"s":0,"t":0.6,"m":1.0003},{"s":0,"t":0.75,"m":1.0003},{"s":0,"t":0.9,"m":0.9985},{"s":0,"t":1.05,"m":0.9963},{"s":0,"t":1.2,"m":0.9976},{"s":0,"t":1.35,"m":0.9976},{"s":0,"t":1.5,"m":1},{"s":0,"t":1.65,"m":1.0003},{"s":0,"t":1.8,"m":1.0015},{"s":0,"t":1.95,"m":1.0015},{"s":0,"t":2.1,"m":1.0027},{"s":0,"t":2.18,"m":1.0027},
{"s":1,"t":-2.2,"m":0.9535},{"s":1,"t":-2.1,"m":0.9487},{"s":1,"t":-1.95,"m":0.9505},{"s":1,"t":-1.8,"m":0.9493},{"s":1,"t":-1.65,"m":0.9517},{"s":1,"t":-1.5,"m":0.953},{"s":1,"t":-1.35,"m":0.95},{"s":1,"t":-1.2,"m":0.95},{"s":1,"t":-1.05,"m":0.951},{"s":1,"t":-0.9,"m":0.95},{"s":1,"t":-0.75,"m":0.95},{"s":1,"t":-0.6,"m":0.9467},{"s":1,"t":-0.45,"m":0.95},{"s":1,"t":-0.3,"m":0.95},{"s":1,"t":-0.15,"m":0.9463},{"s":1,"t":0,"m":0.949},{"s":1,"t":0.15,"m":0.9473},{"s":1,"t":0.3,"m":0.9495},{"s":1,"t":0.45,"m":0.9445},{"s":1,"t":0.6,"m":0.949},{"s":1,"t":0.75,"m":0.9513},{"s":1,"t":0.9,"m":0.9518},{"s":1,"t":1.05,"m":0.9535},{"s":1,"t":1.2,"m":0.9526},{"s":1,"t":1.35,"m":0.9526},{"s":1,"t":1.5,"m":0.9513},{"s":1,"t":1.65,"m":0.951},{"s":1,"t":1.8,"m":0.9535},{"s":1,"t":1.95,"m":0.9513},{"s":1,"t":2.1,"m":0.953},{"s":1,"t":2.18,"m":0.953},
{"s":2,"t":-2.2,"m":0.903},{"s":2,"t":-2.1,"m":0.9045},{"s":2,"t":-1.95,"m":0.9055},{"s":2,"t":-1.8,"m":0.9045},{"s":2,"t":-1.65,"m":0.9037},{"s":2,"t":-1.5,"m":0.908},{"s":2,"t":-1.35,"m":0.9045},{"s":2,"t":-1.2,"m":0.9055},{"s":2,"t":-1.05,"m":0.903},{"s":2,"t":-0.9,"m":0.901},{"s":2,"t":-0.75,"m":0.903},{"s":2,"t":-0.6,"m":0.901},{"s":2,"t":-0.45,"m":0.903},{"s":2,"t":-0.3,"m":0.899},{"s":2,"t":-0.15,"m":0.8945},{"s":2,"t":0,"m":0.888},{"s":2,"t":0.15,"m":0.888},{"s":2,"t":0.3,"m":0.8932},{"s":2,"t":0.45,"m":0.8954},{"s":2,"t":0.6,"m":0.8982},{"s":2,"t":0.75,"m":0.9},{"s":2,"t":0.9,"m":0.9},{"s":2,"t":1.05,"m":0.9},{"s":2,"t":1.2,"m":0.898},{"s":2,"t":1.35,"m":0.8954},{"s":2,"t":1.5,"m":0.8932},{"s":2,"t":1.65,"m":0.8932},{"s":2,"t":1.8,"m":0.9005},{"s":2,"t":1.95,"m":0.903},{"s":2,"t":2.1,"m":0.903},{"s":2,"t":2.18,"m":0.903},
{"s":3,"t":-2.2,"m":0.8583},{"s":3,"t":-2.1,"m":0.85},{"s":3,"t":-1.95,"m":0.853},{"s":3,"t":-1.8,"m":0.85},{"s":3,"t":-1.65,"m":0.85},{"s":3,"t":-1.5,"m":0.852},{"s":3,"t":-1.35,"m":0.853},{"s":3,"t":-1.2,"m":0.854},{"s":3,"t":-1.05,"m":0.855},{"s":3,"t":-0.9,"m":0.849},{"s":3,"t":-0.75,"m":0.851},{"s":3,"t":-0.6,"m":0.851},{"s":3,"t":-0.45,"m":0.85},{"s":3,"t":-0.3,"m":0.8395},{"s":3,"t":-0.15,"m":0.83},{"s":3,"t":0,"m":0.8325},{"s":3,"t":0.15,"m":0.837},{"s":3,"t":0.3,"m":0.852},{"s":3,"t":0.45,"m":0.851},{"s":3,"t":0.6,"m":0.855},{"s":3,"t":0.75,"m":0.852},{"s":3,"t":0.9,"m":0.847},{"s":3,"t":1.05,"m":0.849},{"s":3,"t":1.2,"m":0.852},{"s":3,"t":1.35,"m":0.849},{"s":3,"t":1.5,"m":0.851},{"s":3,"t":1.65,"m":0.847},{"s":3,"t":1.8,"m":0.855},{"s":3,"t":1.95,"m":0.853},{"s":3,"t":2.1,"m":0.85},{"s":3,"t":2.18,"m":0.85},
{"s":4,"t":-2.2,"m":0.807},{"s":4,"t":-2.1,"m":0.8025},{"s":4,"t":-1.95,"m":0.806},{"s":4,"t":-1.8,"m":0.798},{"s":4,"t":-1.65,"m":0.8},{"s":4,"t":-1.5,"m":0.801},{"s":4,"t":-1.35,"m":0.801},{"s":4,"t":-1.2,"m":0.801},{"s":4,"t":-1.05,"m":0.8025},{"s":4,"t":-0.9,"m":0.801},{"s":4,"t":-0.75,"m":0.8},{"s":4,"t":-0.6,"m":0.796},{"s":4,"t":-0.45,"m":0.794},{"s":4,"t":-0.3,"m":0.7875},{"s":4,"t":-0.15,"m":0.7815},{"s":4,"t":0,"m":0.781},{"s":4,"t":0.15,"m":0.778},{"s":4,"t":0.3,"m":0.801},{"s":4,"t":0.45,"m":0.801},{"s":4,"t":0.6,"m":0.8},{"s":4,"t":0.75,"m":0.798},{"s":4,"t":0.9,"m":0.801},{"s":4,"t":1.05,"m":0.8025},{"s":4,"t":1.2,"m":0.8},{"s":4,"t":1.35,"m":0.798},{"s":4,"t":1.5,"m":0.804},{"s":4,"t":1.65,"m":0.804},{"s":4,"t":1.8,"m":0.805},{"s":4,"t":1.95,"m":0.807},{"s":4,"t":2.1,"m":0.801},{"s":4,"t":2.18,"m":0.801},
{"s":5,"t":-2.2,"m":0.7534},{"s":5,"t":-2.1,"m":0.7567},{"s":5,"t":-1.95,"m":0.752},{"s":5,"t":-1.8,"m":0.7534},{"s":5,"t":-1.65,"m":0.749},{"s":5,"t":-1.5,"m":0.7534},{"s":5,"t":-1.35,"m":0.7567},{"s":5,"t":-1.2,"m":0.75},{"s":5,"t":-1.05,"m":0.75},{"s":5,"t":-0.9,"m":0.748},{"s":5,"t":-0.75,"m":0.7483},{"s":5,"t":-0.6,"m":0.751},{"s":5,"t":-0.45,"m":0.741},{"s":5,"t":-0.3,"m":0.742},{"s":5,"t":-0.15,"m":0.7344},{"s":5,"t":0,"m":0.73},{"s":5,"t":0.15,"m":0.74},{"s":5,"t":0.3,"m":0.7437},{"s":5,"t":0.45,"m":0.748},{"s":5,"t":0.6,"m":0.753},{"s":5,"t":0.75,"m":0.7548},{"s":5,"t":0.9,"m":0.7563},{"s":5,"t":1.05,"m":0.7545},{"s":5,"t":1.2,"m":0.7563},{"s":5,"t":1.35,"m":0.7595},{"s":5,"t":1.5,"m":0.753},{"s":5,"t":1.65,"m":0.7526},{"s":5,"t":1.8,"m":0.75},{"s":5,"t":1.95,"m":0.754},{"s":5,"t":2.1,"m":0.7576},{"s":5,"t":2.18,"m":0.7576},
{"s":6,"t":-2.2,"m":0.702},{"s":6,"t":-2.1,"m":0.707},{"s":6,"t":-1.95,"m":0.7056},{"s":6,"t":-1.8,"m":0.706},{"s":6,"t":-1.65,"m":0.707},{"s":6,"t":-1.5,"m":0.7},{"s":6,"t":-1.35,"m":0.703},{"s":6,"t":-1.2,"m":0.703},{"s":6,"t":-1.05,"m":0.703},{"s":6,"t":-0.9,"m":0.701},{"s":6,"t":-0.75,"m":0.7},{"s":6,"t":-0.6,"m":0.7},{"s":6,"t":-0.45,"m":0.6935},{"s":6,"t":-0.3,"m":0.692},{"s":6,"t":-0.15,"m":0.6945},{"s":6,"t":0,"m":0.6903},{"s":6,"t":0.15,"m":0.69},{"s":6,"t":0.3,"m":0.692},{"s":6,"t":0.45,"m":0.6963},{"s":6,"t":0.6,"m":0.701},{"s":6,"t":0.75,"m":0.7013},{"s":6,"t":0.9,"m":0.7037},{"s":6,"t":1.05,"m":0.7024},{"s":6,"t":1.2,"m":0.701},{"s":6,"t":1.35,"m":0.7},{"s":6,"t":1.5,"m":0.699},{"s":6,"t":1.65,"m":0.704},{"s":6,"t":1.8,"m":0.6995},{"s":6,"t":1.95,"m":0.698},{"s":6,"t":2.1,"m":0.702},{"s":6,"t":2.18,"m":0.702},
{"s":7,"t":-2.2,"m":0.65},{"s":7,"t":-2.1,"m":0.652},{"s":7,"t":-1.95,"m":0.654},{"s":7,"t":-1.8,"m":0.652},{"s":7,"t":-1.65,"m":0.65},{"s":7,"t":-1.5,"m":0.651},{"s":7,"t":-1.35,"m":0.652},{"s":7,"t":-1.2,"m":0.654},{"s":7,"t":-1.05,"m":0.65},{"s":7,"t":-0.9,"m":0.654},{"s":7,"t":-0.75,"m":0.646},{"s":7,"t":-0.6,"m":0.654},{"s":7,"t":-0.45,"m":0.651},{"s":7,"t":-0.3,"m":0.6455},{"s":7,"t":-0.15,"m":0.643},{"s":7,"t":0,"m":0.6435},{"s":7,"t":0.15,"m":0.643},{"s":7,"t":0.3,"m":0.643},{"s":7,"t":0.45,"m":0.6485},{"s":7,"t":0.6,"m":0.652},{"s":7,"t":0.75,"m":0.651},{"s":7,"t":0.9,"m":0.656},{"s":7,"t":1.05,"m":0.654},{"s":7,"t":1.2,"m":0.652},{"s":7,"t":1.35,"m":0.652},{"s":7,"t":1.5,"m":0.654},{"s":7,"t":1.65,"m":0.652},{"s":7,"t":1.8,"m":0.65},{"s":7,"t":1.95,"m":0.654},{"s":7,"t":2.1,"m":0.652},{"s":7,"t":2.18,"m":0.652},
{"s":8,"t":-2.2,"m":0.598},{"s":8,"t":-2.1,"m":0.602},{"s":8,"t":-1.95,"m":0.602},{"s":8,"t":-1.8,"m":0.6},{"s":8,"t":-1.65,"m":0.6},{"s":8,"t":-1.5,"m":0.604},{"s":8,"t":-1.35,"m":0.601},{"s":8,"t":-1.2,"m":0.603},{"s":8,"t":-1.05,"m":0.605},{"s":8,"t":-0.9,"m":0.601},{"s":8,"t":-0.75,"m":0.603},{"s":8,"t":-0.6,"m":0.6},{"s":8,"t":-0.45,"m":0.601},{"s":8,"t":-0.3,"m":0.5926},{"s":8,"t":-0.15,"m":0.5926},{"s":8,"t":0,"m":0.587},{"s":8,"t":0.15,"m":0.5855},{"s":8,"t":0.3,"m":0.5842},{"s":8,"t":0.45,"m":0.5898},{"s":8,"t":0.6,"m":0.6},{"s":8,"t":0.75,"m":0.601},{"s":8,"t":0.9,"m":0.603},{"s":8,"t":1.05,"m":0.605},{"s":8,"t":1.2,"m":0.601},{"s":8,"t":1.35,"m":0.6},{"s":8,"t":1.5,"m":0.599},{"s":8,"t":1.65,"m":0.603},{"s":8,"t":1.8,"m":0.606},{"s":8,"t":1.95,"m":0.6},{"s":8,"t":2.1,"m":0.6005},{"s":8,"t":2.18,"m":0.6005},
{"s":9,"t":-2.2,"m":0.548},{"s":9,"t":-2.1,"m":0.55},{"s":9,"t":-1.95,"m":0.553},{"s":9,"t":-1.8,"m":0.554},{"s":9,"t":-1.65,"m":0.55},{"s":9,"t":-1.5,"m":0.553},{"s":9,"t":-1.35,"m":0.552},{"s":9,"t":-1.2,"m":0.555},{"s":9,"t":-1.05,"m":0.553},{"s":9,"t":-0.9,"m":0.553},{"s":9,"t":-0.75,"m":0.553},{"s":9,"t":-0.6,"m":0.5487},{"s":9,"t":-0.45,"m":0.5505},{"s":9,"t":-0.3,"m":0.5397},{"s":9,"t":-0.15,"m":0.5435},{"s":9,"t":0,"m":0.5406},{"s":9,"t":0.15,"m":0.5406},{"s":9,"t":0.3,"m":0.5444},{"s":9,"t":0.45,"m":0.5463},{"s":9,"t":0.6,"m":0.5487},{"s":9,"t":0.75,"m":0.5495},{"s":9,"t":0.9,"m":0.552},{"s":9,"t":1.05,"m":0.553},{"s":9,"t":1.2,"m":0.553},{"s":9,"t":1.35,"m":0.5555},{"s":9,"t":1.5,"m":0.552},{"s":9,"t":1.65,"m":0.551},{"s":9,"t":1.8,"m":0.5505},{"s":9,"t":1.95,"m":0.55},{"s":9,"t":2.1,"m":0.55},{"s":9,"t":2.18,"m":0.55}],
"lab": [{"label":"Day 0 to 8","b":1},{"label":"Day 8 to 16","b":0.95},{"label":"Day 16 to 24","b":0.9},{"label":"Day 24 to 32","b":0.85},{"label":"Day 32 to 40","b":0.8},{"label":"Day 40 to 48","b":0.75},{"label":"Day 48 to 56","b":0.7},{"label":"Day 56 to 64","b":0.65},{"label":"Day 64 to 72","b":0.6},{"label":"Day 72 to 80","b":0.55}]
},
"resolve": {"axis": {"x": "independent", "y": "independent"}},
"layer": [
{"data": {"name": "p0"}, "mark": {"type": "circle", "size": 80, "opacity": 1, "color": "#6363c6", "clip": true},
 "encoding": {
  "x": {"field": "t", "type": "quantitative", "scale": {"domain": [-2.27, 2.21], "nice": false, "zero": false},
   "axis": {"orient": "bottom", "values": [-2.2,-2.1,-2,-1.9,-1.8,-1.7,-1.6,-1.5,-1.4,-1.3,-1.2,-1.1,-1,-0.9,-0.8,-0.7,-0.6,-0.5,-0.4,-0.3,-0.2,-0.1,0,0.1,0.2,0.3,0.4,0.5,0.6,0.7,0.8,0.9,1,1.1,1.2,1.3,1.4,1.5,1.6,1.7,1.8,1.9,2,2.1,2.2],
    "tickSize": {"condition": {"test": "abs(datum.value - round(datum.value)) < 0.001", "value": -18}, "value": -8},
    "labelExpr": "abs(datum.value - round(datum.value)) < 0.001 ? '' + round(datum.value) : ''",
    "labelPadding": 30, "title": "Time from mid-event (hours)", "titlePadding": -6}},
  "y": {"field": "y", "type": "quantitative", "scale": {"domain": [0.48, 1.02], "nice": false, "zero": false},
   "axis": {"orient": "left", "values": [0.48,0.49,0.5,0.51,0.52,0.53,0.54,0.55,0.56,0.57,0.58,0.59,0.6,0.61,0.62,0.63,0.64,0.65,0.66,0.67,0.68,0.69,0.7,0.71,0.72,0.73,0.74,0.75,0.76,0.77,0.78,0.79,0.8,0.81,0.82,0.83,0.84,0.85,0.86,0.87,0.88,0.89,0.9,0.91,0.92,0.93,0.94,0.95,0.96,0.97,0.98,0.99,1,1.01,1.02],
    "tickSize": {"condition": {"test": "abs(datum.value*10 - round(datum.value*10)) < 0.001", "value": -11}, "value": -6},
    "labelExpr": "abs(datum.value*10 - round(datum.value*10)) < 0.001 ? format(datum.value, '.1f') : ''",
    "labelPadding": 17, "title": "Relative Brightness + Offset", "titlePadding": 13}}}},
{"data": {"name": "p1"}, "mark": {"type": "circle", "size": 80, "opacity": 1, "color": "#7575c4", "clip": true}, "encoding": {"x": {"field": "t", "type": "quantitative", "axis": null}, "y": {"field": "y", "type": "quantitative", "axis": null}}},
{"data": {"name": "p2"}, "mark": {"type": "circle", "size": 80, "opacity": 1, "color": "#8a8ac2", "clip": true}, "encoding": {"x": {"field": "t", "type": "quantitative", "axis": null}, "y": {"field": "y", "type": "quantitative", "axis": null}}},
{"data": {"name": "p3"}, "mark": {"type": "circle", "size": 80, "opacity": 1, "color": "#a7a7c4", "clip": true}, "encoding": {"x": {"field": "t", "type": "quantitative", "axis": null}, "y": {"field": "y", "type": "quantitative", "axis": null}}},
{"data": {"name": "p4"}, "mark": {"type": "circle", "size": 80, "opacity": 1, "color": "#c4b6ba", "clip": true}, "encoding": {"x": {"field": "t", "type": "quantitative", "axis": null}, "y": {"field": "y", "type": "quantitative", "axis": null}}},
{"data": {"name": "p5"}, "mark": {"type": "circle", "size": 80, "opacity": 1, "color": "#cfa0a0", "clip": true}, "encoding": {"x": {"field": "t", "type": "quantitative", "axis": null}, "y": {"field": "y", "type": "quantitative", "axis": null}}},
{"data": {"name": "p6"}, "mark": {"type": "circle", "size": 80, "opacity": 1, "color": "#d18282", "clip": true}, "encoding": {"x": {"field": "t", "type": "quantitative", "axis": null}, "y": {"field": "y", "type": "quantitative", "axis": null}}},
{"data": {"name": "p7"}, "mark": {"type": "circle", "size": 80, "opacity": 1, "color": "#d06464", "clip": true}, "encoding": {"x": {"field": "t", "type": "quantitative", "axis": null}, "y": {"field": "y", "type": "quantitative", "axis": null}}},
{"data": {"name": "p8"}, "mark": {"type": "circle", "size": 80, "opacity": 1, "color": "#cf3c3c", "clip": true}, "encoding": {"x": {"field": "t", "type": "quantitative", "axis": null}, "y": {"field": "y", "type": "quantitative", "axis": null}}},
{"data": {"name": "p9"}, "mark": {"type": "circle", "size": 80, "opacity": 1, "color": "#d00e0e", "clip": true}, "encoding": {"x": {"field": "t", "type": "quantitative", "axis": null}, "y": {"field": "y", "type": "quantitative", "axis": null}}},
{"data": {"name": "lab"}, "mark": {"type": "rule", "strokeDash": [8, 6], "color": "#333", "strokeWidth": 1.3},
 "encoding": {"y": {"field": "b", "type": "quantitative", "axis": null}}},
{"data": {"name": "bins"}, "mark": {"type": "line", "interpolate": "step-after", "color": "#000", "strokeWidth": 2.2, "clip": true},
 "encoding": {
  "x": {"field": "t", "type": "quantitative",
   "axis": {"orient": "top", "values": [-2.2,-2.1,-2,-1.9,-1.8,-1.7,-1.6,-1.5,-1.4,-1.3,-1.2,-1.1,-1,-0.9,-0.8,-0.7,-0.6,-0.5,-0.4,-0.3,-0.2,-0.1,0,0.1,0.2,0.3,0.4,0.5,0.6,0.7,0.8,0.9,1,1.1,1.2,1.3,1.4,1.5,1.6,1.7,1.8,1.9,2,2.1,2.2],
    "tickSize": {"condition": {"test": "abs(datum.value - round(datum.value)) < 0.001", "value": -18}, "value": -8},
    "labels": false, "title": null}},
  "y": {"field": "m", "type": "quantitative",
   "axis": {"orient": "right", "values": [0.48,0.49,0.5,0.51,0.52,0.53,0.54,0.55,0.56,0.57,0.58,0.59,0.6,0.61,0.62,0.63,0.64,0.65,0.66,0.67,0.68,0.69,0.7,0.71,0.72,0.73,0.74,0.75,0.76,0.77,0.78,0.79,0.8,0.81,0.82,0.83,0.84,0.85,0.86,0.87,0.88,0.89,0.9,0.91,0.92,0.93,0.94,0.95,0.96,0.97,0.98,0.99,1,1.01,1.02],
    "tickSize": {"condition": {"test": "abs(datum.value*10 - round(datum.value*10)) < 0.001", "value": -11}, "value": -6},
    "labels": false, "title": null}},
  "detail": {"field": "s"}}},
{"data": {"name": "lab"}, "mark": {"type": "text", "align": "left", "baseline": "middle", "dy": 38, "fontSize": 21, "font": "Liberation Sans", "color": "#111"},
 "encoding": {"x": {"datum": -2, "type": "quantitative", "axis": null}, "y": {"field": "b", "type": "quantitative", "axis": null}, "text": {"field": "label"}}},
{"data": {"values": [{"t": -1.92, "lo": 0.9978, "hi": 1.0077}]}, "mark": {"type": "rule", "color": "#d80000", "strokeWidth": 5},
 "encoding": {"x": {"field": "t", "type": "quantitative", "axis": null}, "y": {"field": "lo", "type": "quantitative", "axis": null}, "y2": {"field": "hi"}}}
]
}
